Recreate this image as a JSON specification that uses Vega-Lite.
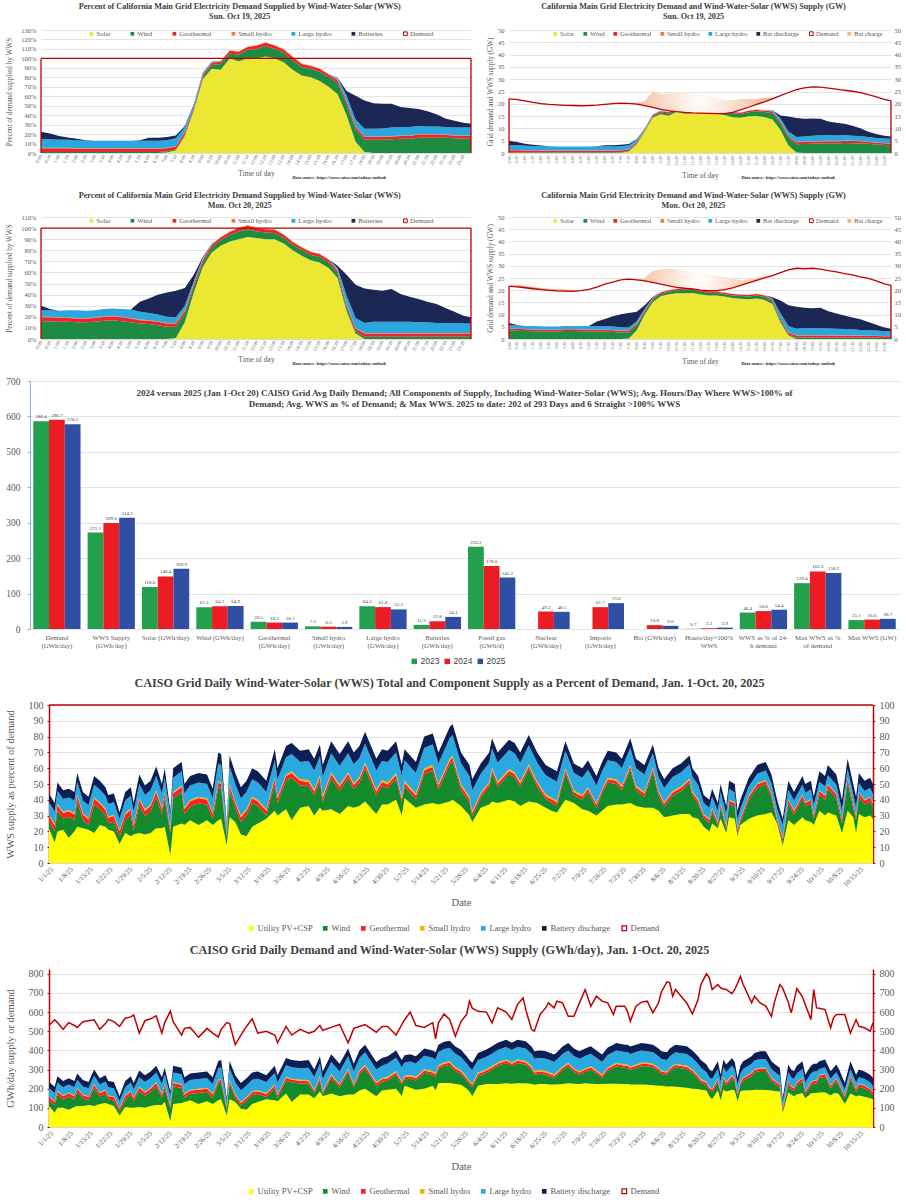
{
  "$schema": "https://vega.github.io/schema/vega-lite/v6.json",
  "background": "white",
  "padding": {"left": 4, "top": 1, "right": 0, "bottom": 0},
  "spacing": 10,
  "resolve": {"scale": {"color": "independent"}},
  "config": {
    "font": "Liberation Serif",
    "view": {"stroke": null},
    "axis": {"labelColor": "#595959", "titleColor": "#595959", "gridColor": "#d9d9d9", "gridWidth": 0.7, "domainColor": "#bfbfbf", "tickColor": "#bfbfbf", "titleFontWeight": "normal"},
    "legend": {"labelColor": "#595959"},
    "title": {"color": "#404040", "fontWeight": "bold", "anchor": "middle"}
  },
  "datasets": {
    "oct19pct": [
      {"hour":0,"solar":0,"wind":1,"geo":4,"smhydro":0.5,"lghydro":9,"batt":8,"demand":100},
      {"hour":0.5,"solar":0,"wind":1,"geo":4,"smhydro":0.5,"lghydro":9,"batt":6,"demand":100},
      {"hour":1,"solar":0,"wind":1,"geo":4,"smhydro":0.5,"lghydro":8.5,"batt":4,"demand":100},
      {"hour":1.5,"solar":0,"wind":1,"geo":4,"smhydro":0.5,"lghydro":8.5,"batt":2.5,"demand":100},
      {"hour":2,"solar":0,"wind":1,"geo":3.5,"smhydro":0.5,"lghydro":8.5,"batt":1.5,"demand":100},
      {"hour":2.5,"solar":0,"wind":1,"geo":3.5,"smhydro":0.5,"lghydro":8,"batt":0.5,"demand":100},
      {"hour":3,"solar":0,"wind":1,"geo":3.5,"smhydro":0.5,"lghydro":8,"batt":0,"demand":100},
      {"hour":3.5,"solar":0,"wind":1,"geo":3.5,"smhydro":0.5,"lghydro":8,"batt":0,"demand":100},
      {"hour":4,"solar":0,"wind":1,"geo":3.5,"smhydro":0.5,"lghydro":8,"batt":0,"demand":100},
      {"hour":4.5,"solar":0,"wind":1,"geo":3.5,"smhydro":0.5,"lghydro":8,"batt":0,"demand":100},
      {"hour":5,"solar":0,"wind":1,"geo":3.5,"smhydro":0.5,"lghydro":8,"batt":0,"demand":100},
      {"hour":5.5,"solar":0,"wind":1,"geo":3.5,"smhydro":0.5,"lghydro":8,"batt":0.5,"demand":100},
      {"hour":6,"solar":0,"wind":1,"geo":3.5,"smhydro":0.5,"lghydro":8,"batt":3,"demand":100},
      {"hour":6.5,"solar":0,"wind":1,"geo":3.5,"smhydro":0.5,"lghydro":8,"batt":3,"demand":100},
      {"hour":7,"solar":0.5,"wind":1,"geo":3.5,"smhydro":0.5,"lghydro":8,"batt":3.5,"demand":100},
      {"hour":7.5,"solar":3,"wind":1,"geo":3,"smhydro":0.5,"lghydro":8,"batt":3,"demand":100},
      {"hour":8,"solar":18,"wind":1,"geo":3,"smhydro":0.5,"lghydro":5,"batt":1,"demand":100},
      {"hour":8.5,"solar":45,"wind":1,"geo":2.5,"smhydro":0.5,"lghydro":3,"batt":0,"demand":100},
      {"hour":9,"solar":78,"wind":2,"geo":2.5,"smhydro":0.5,"lghydro":2,"batt":0,"demand":100},
      {"hour":9.5,"solar":89,"wind":4,"geo":2.5,"smhydro":0.5,"lghydro":1,"batt":0,"demand":100},
      {"hour":10,"solar":88,"wind":6,"geo":2.5,"smhydro":0.5,"lghydro":0.5,"batt":0,"demand":100},
      {"hour":10.5,"solar":100,"wind":5,"geo":3,"smhydro":0.5,"lghydro":0,"batt":0,"demand":100},
      {"hour":11,"solar":97,"wind":7,"geo":3,"smhydro":0.5,"lghydro":0,"batt":0,"demand":100},
      {"hour":11.5,"solar":100,"wind":9,"geo":3,"smhydro":0.5,"lghydro":0,"batt":0,"demand":100},
      {"hour":12,"solar":100,"wind":10,"geo":3.5,"smhydro":0.5,"lghydro":0,"batt":0,"demand":100},
      {"hour":12.5,"solar":102,"wind":11,"geo":3.5,"smhydro":0.5,"lghydro":0,"batt":0,"demand":100},
      {"hour":13,"solar":100,"wind":10,"geo":3.5,"smhydro":0.5,"lghydro":0,"batt":0,"demand":100},
      {"hour":13.5,"solar":96,"wind":10,"geo":3.5,"smhydro":0.5,"lghydro":0,"batt":0,"demand":100},
      {"hour":14,"solar":88,"wind":10,"geo":3.5,"smhydro":0.5,"lghydro":0,"batt":0,"demand":100},
      {"hour":14.5,"solar":82,"wind":9,"geo":3,"smhydro":0.5,"lghydro":0,"batt":0,"demand":100},
      {"hour":15,"solar":80,"wind":9,"geo":3,"smhydro":0.5,"lghydro":0,"batt":0,"demand":100},
      {"hour":15.5,"solar":76,"wind":10,"geo":3,"smhydro":0.5,"lghydro":0,"batt":0,"demand":100},
      {"hour":16,"solar":70,"wind":10,"geo":3,"smhydro":0.5,"lghydro":0,"batt":0,"demand":100},
      {"hour":16.5,"solar":62,"wind":12,"geo":3,"smhydro":0.5,"lghydro":2,"batt":0,"demand":100},
      {"hour":17,"solar":40,"wind":12,"geo":3,"smhydro":0.5,"lghydro":5,"batt":5,"demand":100},
      {"hour":17.5,"solar":12,"wind":13,"geo":3,"smhydro":0.5,"lghydro":7,"batt":25,"demand":100},
      {"hour":18,"solar":1,"wind":13,"geo":3,"smhydro":0.5,"lghydro":8,"batt":30,"demand":100},
      {"hour":18.5,"solar":0,"wind":14,"geo":3,"smhydro":0.5,"lghydro":8,"batt":27,"demand":100},
      {"hour":19,"solar":0,"wind":14,"geo":3,"smhydro":0.5,"lghydro":8.5,"batt":26,"demand":100},
      {"hour":19.5,"solar":0,"wind":14.5,"geo":3,"smhydro":0.5,"lghydro":9,"batt":25,"demand":100},
      {"hour":20,"solar":0,"wind":15,"geo":3,"smhydro":0.5,"lghydro":9,"batt":21,"demand":100},
      {"hour":20.5,"solar":0,"wind":15,"geo":3,"smhydro":0.5,"lghydro":9,"batt":20,"demand":100},
      {"hour":21,"solar":0,"wind":16,"geo":3.5,"smhydro":0.5,"lghydro":8.5,"batt":18,"demand":100},
      {"hour":21.5,"solar":0,"wind":16,"geo":3.5,"smhydro":0.5,"lghydro":8,"batt":16,"demand":100},
      {"hour":22,"solar":0,"wind":16,"geo":3.5,"smhydro":0.5,"lghydro":8,"batt":13,"demand":100},
      {"hour":22.5,"solar":0,"wind":16,"geo":3,"smhydro":0.5,"lghydro":8,"batt":9,"demand":100},
      {"hour":23,"solar":0,"wind":15.5,"geo":3,"smhydro":0.5,"lghydro":8,"batt":7,"demand":100},
      {"hour":23.5,"solar":0,"wind":15,"geo":3,"smhydro":0.5,"lghydro":8.5,"batt":5,"demand":100},
      {"hour":23.92,"solar":0,"wind":15,"geo":3,"smhydro":0.5,"lghydro":8.5,"batt":4,"demand":100}
    ],
    "oct19gw": [
      {"hour":0,"solar":0,"wind":0.2,"geo":0.9,"smhydro":0.1,"lghydro":2.0,"batt":1.8,"demand":22.0,"charge_top":22.0},
      {"hour":0.5,"solar":0,"wind":0.2,"geo":0.9,"smhydro":0.1,"lghydro":2.0,"batt":1.3,"demand":21.7,"charge_top":21.7},
      {"hour":1,"solar":0,"wind":0.2,"geo":0.85,"smhydro":0.1,"lghydro":1.8,"batt":0.85,"demand":21.2,"charge_top":21.2},
      {"hour":1.5,"solar":0,"wind":0.2,"geo":0.8,"smhydro":0.1,"lghydro":1.75,"batt":0.5,"demand":20.6,"charge_top":20.6},
      {"hour":2,"solar":0,"wind":0.2,"geo":0.7,"smhydro":0.1,"lghydro":1.7,"batt":0.3,"demand":20.1,"charge_top":20.1},
      {"hour":2.5,"solar":0,"wind":0.2,"geo":0.7,"smhydro":0.1,"lghydro":1.6,"batt":0.1,"demand":19.8,"charge_top":19.8},
      {"hour":3,"solar":0,"wind":0.2,"geo":0.7,"smhydro":0.1,"lghydro":1.6,"batt":0,"demand":19.6,"charge_top":19.6},
      {"hour":3.5,"solar":0,"wind":0.2,"geo":0.7,"smhydro":0.1,"lghydro":1.6,"batt":0,"demand":19.4,"charge_top":19.4},
      {"hour":4,"solar":0,"wind":0.2,"geo":0.7,"smhydro":0.1,"lghydro":1.6,"batt":0,"demand":19.3,"charge_top":19.3},
      {"hour":4.5,"solar":0,"wind":0.2,"geo":0.7,"smhydro":0.1,"lghydro":1.6,"batt":0,"demand":19.2,"charge_top":19.2},
      {"hour":5,"solar":0,"wind":0.2,"geo":0.7,"smhydro":0.1,"lghydro":1.6,"batt":0,"demand":19.3,"charge_top":19.3},
      {"hour":5.5,"solar":0,"wind":0.2,"geo":0.7,"smhydro":0.1,"lghydro":1.6,"batt":0.1,"demand":19.5,"charge_top":19.5},
      {"hour":6,"solar":0,"wind":0.2,"geo":0.7,"smhydro":0.1,"lghydro":1.6,"batt":0.6,"demand":19.8,"charge_top":19.8},
      {"hour":6.5,"solar":0,"wind":0.2,"geo":0.7,"smhydro":0.1,"lghydro":1.6,"batt":0.6,"demand":20.1,"charge_top":20.1},
      {"hour":7,"solar":0.1,"wind":0.2,"geo":0.7,"smhydro":0.1,"lghydro":1.6,"batt":0.7,"demand":20.3,"charge_top":20.3},
      {"hour":7.5,"solar":0.6,"wind":0.2,"geo":0.6,"smhydro":0.1,"lghydro":1.6,"batt":0.6,"demand":20.2,"charge_top":20.2},
      {"hour":8,"solar":3.6,"wind":0.2,"geo":0.6,"smhydro":0.1,"lghydro":1.0,"batt":0.2,"demand":19.9,"charge_top":20.5},
      {"hour":8.5,"solar":8.7,"wind":0.2,"geo":0.5,"smhydro":0.1,"lghydro":0.6,"batt":0,"demand":19.3,"charge_top":21.0},
      {"hour":9,"solar":14.4,"wind":0.4,"geo":0.5,"smhydro":0.1,"lghydro":0.4,"batt":0,"demand":18.5,"charge_top":25.0},
      {"hour":9.5,"solar":15.8,"wind":0.7,"geo":0.45,"smhydro":0.1,"lghydro":0.2,"batt":0,"demand":17.7,"charge_top":24.0},
      {"hour":10,"solar":15.1,"wind":1.0,"geo":0.45,"smhydro":0.1,"lghydro":0.1,"batt":0,"demand":17.2,"charge_top":24.0},
      {"hour":10.5,"solar":16.8,"wind":0.85,"geo":0.5,"smhydro":0.1,"lghydro":0,"batt":0,"demand":16.8,"charge_top":24.5},
      {"hour":11,"solar":16.0,"wind":1.15,"geo":0.5,"smhydro":0.1,"lghydro":0,"batt":0,"demand":16.5,"charge_top":24.5},
      {"hour":11.5,"solar":16.3,"wind":1.5,"geo":0.5,"smhydro":0.1,"lghydro":0,"batt":0,"demand":16.3,"charge_top":24.5},
      {"hour":12,"solar":16.2,"wind":1.6,"geo":0.55,"smhydro":0.1,"lghydro":0,"batt":0,"demand":16.2,"charge_top":24.5},
      {"hour":12.5,"solar":16.4,"wind":1.8,"geo":0.55,"smhydro":0.1,"lghydro":0,"batt":0,"demand":16.1,"charge_top":23.5},
      {"hour":13,"solar":16.0,"wind":1.6,"geo":0.55,"smhydro":0.1,"lghydro":0,"batt":0,"demand":16.0,"charge_top":22.5},
      {"hour":13.5,"solar":15.4,"wind":1.6,"geo":0.55,"smhydro":0.1,"lghydro":0,"batt":0,"demand":16.0,"charge_top":21.5},
      {"hour":14,"solar":14.5,"wind":1.65,"geo":0.55,"smhydro":0.1,"lghydro":0,"batt":0,"demand":16.5,"charge_top":21.5},
      {"hour":14.5,"solar":14.3,"wind":1.6,"geo":0.5,"smhydro":0.1,"lghydro":0,"batt":0,"demand":17.5,"charge_top":22.0},
      {"hour":15,"solar":14.9,"wind":1.7,"geo":0.55,"smhydro":0.1,"lghydro":0,"batt":0,"demand":18.6,"charge_top":22.0},
      {"hour":15.5,"solar":15.0,"wind":2.0,"geo":0.6,"smhydro":0.1,"lghydro":0,"batt":0,"demand":19.8,"charge_top":22.0},
      {"hour":16,"solar":14.6,"wind":2.1,"geo":0.6,"smhydro":0.1,"lghydro":0,"batt":0,"demand":20.8,"charge_top":22.5},
      {"hour":16.5,"solar":13.6,"wind":2.6,"geo":0.65,"smhydro":0.1,"lghydro":0.45,"batt":0,"demand":22.0,"charge_top":22.5},
      {"hour":17,"solar":9.3,"wind":2.8,"geo":0.7,"smhydro":0.1,"lghydro":1.15,"batt":1.15,"demand":23.3,"charge_top":23.3},
      {"hour":17.5,"solar":3.0,"wind":3.2,"geo":0.75,"smhydro":0.1,"lghydro":1.7,"batt":6.1,"demand":24.6,"charge_top":24.6},
      {"hour":18,"solar":0.25,"wind":3.35,"geo":0.8,"smhydro":0.1,"lghydro":2.05,"batt":7.7,"demand":25.8,"charge_top":25.8},
      {"hour":18.5,"solar":0,"wind":3.7,"geo":0.8,"smhydro":0.13,"lghydro":2.1,"batt":7.2,"demand":26.5,"charge_top":26.5},
      {"hour":19,"solar":0,"wind":3.75,"geo":0.8,"smhydro":0.13,"lghydro":2.3,"batt":7.0,"demand":26.9,"charge_top":26.9},
      {"hour":19.5,"solar":0,"wind":3.9,"geo":0.8,"smhydro":0.13,"lghydro":2.4,"batt":6.7,"demand":26.8,"charge_top":26.8},
      {"hour":20,"solar":0,"wind":4.0,"geo":0.8,"smhydro":0.13,"lghydro":2.4,"batt":5.5,"demand":26.4,"charge_top":26.4},
      {"hour":20.5,"solar":0,"wind":3.9,"geo":0.8,"smhydro":0.13,"lghydro":2.3,"batt":5.2,"demand":26.0,"charge_top":26.0},
      {"hour":21,"solar":0,"wind":4.1,"geo":0.9,"smhydro":0.13,"lghydro":2.2,"batt":4.6,"demand":25.5,"charge_top":25.5},
      {"hour":21.5,"solar":0,"wind":4.0,"geo":0.9,"smhydro":0.13,"lghydro":2.0,"batt":4.0,"demand":25.1,"charge_top":25.1},
      {"hour":22,"solar":0,"wind":3.9,"geo":0.85,"smhydro":0.12,"lghydro":2.0,"batt":3.2,"demand":24.5,"charge_top":24.5},
      {"hour":22.5,"solar":0,"wind":3.8,"geo":0.7,"smhydro":0.12,"lghydro":1.9,"batt":2.1,"demand":23.7,"charge_top":23.7},
      {"hour":23,"solar":0,"wind":3.5,"geo":0.7,"smhydro":0.11,"lghydro":1.8,"batt":1.6,"demand":22.8,"charge_top":22.8},
      {"hour":23.5,"solar":0,"wind":3.3,"geo":0.65,"smhydro":0.11,"lghydro":1.85,"batt":1.1,"demand":21.8,"charge_top":21.8},
      {"hour":23.92,"solar":0,"wind":3.2,"geo":0.65,"smhydro":0.11,"lghydro":1.8,"batt":0.9,"demand":21.2,"charge_top":21.2}
    ],
    "oct20pct": [
      {"hour":0,"solar":0,"wind":16,"geo":3.5,"smhydro":0.5,"lghydro":6,"batt":4,"demand":100},
      {"hour":0.5,"solar":0,"wind":16,"geo":3.5,"smhydro":0.5,"lghydro":6,"batt":1,"demand":100},
      {"hour":1,"solar":0,"wind":15.5,"geo":3.5,"smhydro":0.5,"lghydro":6,"batt":0,"demand":100},
      {"hour":1.5,"solar":0,"wind":15.5,"geo":3.5,"smhydro":0.5,"lghydro":6.5,"batt":0,"demand":100},
      {"hour":2,"solar":0,"wind":15,"geo":3.5,"smhydro":0.5,"lghydro":7,"batt":0,"demand":100},
      {"hour":2.5,"solar":0,"wind":15,"geo":3.5,"smhydro":0.5,"lghydro":6.5,"batt":0,"demand":100},
      {"hour":3,"solar":0,"wind":15.5,"geo":3.5,"smhydro":0.5,"lghydro":6.5,"batt":0,"demand":100},
      {"hour":3.5,"solar":0,"wind":16.5,"geo":3.5,"smhydro":0.5,"lghydro":6.5,"batt":0,"demand":100},
      {"hour":4,"solar":0,"wind":17,"geo":3.5,"smhydro":0.5,"lghydro":6.5,"batt":0,"demand":100},
      {"hour":4.5,"solar":0,"wind":16,"geo":3.5,"smhydro":0.5,"lghydro":7,"batt":0,"demand":100},
      {"hour":5,"solar":0,"wind":15,"geo":3.5,"smhydro":0.5,"lghydro":7.5,"batt":0,"demand":100},
      {"hour":5.5,"solar":0,"wind":14,"geo":3,"smhydro":0.5,"lghydro":7,"batt":9,"demand":100},
      {"hour":6,"solar":0,"wind":13.5,"geo":3,"smhydro":0.5,"lghydro":6.5,"batt":13,"demand":100},
      {"hour":6.5,"solar":0,"wind":12.5,"geo":3,"smhydro":0.5,"lghydro":6,"batt":18,"demand":100},
      {"hour":7,"solar":0,"wind":11,"geo":3,"smhydro":0.5,"lghydro":5.5,"batt":22,"demand":100},
      {"hour":7.5,"solar":1,"wind":10,"geo":3,"smhydro":0.5,"lghydro":5,"batt":24,"demand":100},
      {"hour":8,"solar":15,"wind":8,"geo":2.5,"smhydro":0.5,"lghydro":4,"batt":16,"demand":100},
      {"hour":8.5,"solar":42,"wind":5,"geo":2.5,"smhydro":0.5,"lghydro":2,"batt":6,"demand":100},
      {"hour":9,"solar":65,"wind":4,"geo":2.5,"smhydro":0.5,"lghydro":1,"batt":1,"demand":100},
      {"hour":9.5,"solar":78,"wind":4.5,"geo":2.5,"smhydro":0.5,"lghydro":0.5,"batt":0,"demand":100},
      {"hour":10,"solar":84,"wind":5,"geo":2.5,"smhydro":0.5,"lghydro":0,"batt":0,"demand":100},
      {"hour":10.5,"solar":88,"wind":6,"geo":2.5,"smhydro":0.5,"lghydro":0,"batt":0,"demand":100},
      {"hour":11,"solar":90,"wind":7,"geo":3,"smhydro":0.5,"lghydro":0,"batt":0,"demand":100},
      {"hour":11.5,"solar":92,"wind":7,"geo":3,"smhydro":0.5,"lghydro":0,"batt":0,"demand":100},
      {"hour":12,"solar":91,"wind":6,"geo":3,"smhydro":0.5,"lghydro":0,"batt":0,"demand":100},
      {"hour":12.5,"solar":90,"wind":6,"geo":3,"smhydro":0.5,"lghydro":0,"batt":0,"demand":100},
      {"hour":13,"solar":90,"wind":5.5,"geo":3,"smhydro":0.5,"lghydro":0,"batt":0,"demand":100},
      {"hour":13.5,"solar":86,"wind":5,"geo":3,"smhydro":0.5,"lghydro":0,"batt":0,"demand":100},
      {"hour":14,"solar":80,"wind":5,"geo":2.5,"smhydro":0.5,"lghydro":0,"batt":0,"demand":100},
      {"hour":14.5,"solar":75,"wind":5,"geo":2.5,"smhydro":0.5,"lghydro":0,"batt":0,"demand":100},
      {"hour":15,"solar":71,"wind":5,"geo":2.5,"smhydro":0.5,"lghydro":0,"batt":0,"demand":100},
      {"hour":15.5,"solar":69,"wind":5,"geo":2.5,"smhydro":0.5,"lghydro":0,"batt":0,"demand":100},
      {"hour":16,"solar":64,"wind":5,"geo":2.5,"smhydro":0.5,"lghydro":0,"batt":0,"demand":100},
      {"hour":16.5,"solar":55,"wind":4,"geo":2.5,"smhydro":0.5,"lghydro":2,"batt":2,"demand":100},
      {"hour":17,"solar":25,"wind":3,"geo":2.5,"smhydro":0.5,"lghydro":8,"batt":19,"demand":100},
      {"hour":17.5,"solar":5,"wind":2,"geo":2.5,"smhydro":0.5,"lghydro":9,"batt":30,"demand":100},
      {"hour":18,"solar":0,"wind":2,"geo":3,"smhydro":0.5,"lghydro":9,"batt":31,"demand":100},
      {"hour":18.5,"solar":0,"wind":2,"geo":3,"smhydro":0.5,"lghydro":10,"batt":29,"demand":100},
      {"hour":19,"solar":0,"wind":2,"geo":3,"smhydro":0.5,"lghydro":10,"batt":28,"demand":100},
      {"hour":19.5,"solar":0,"wind":2,"geo":3,"smhydro":0.5,"lghydro":10,"batt":29.5,"demand":100},
      {"hour":20,"solar":0,"wind":2,"geo":3,"smhydro":0.5,"lghydro":10,"batt":25,"demand":100},
      {"hour":20.5,"solar":0,"wind":2,"geo":3,"smhydro":0.5,"lghydro":10,"batt":22.5,"demand":100},
      {"hour":21,"solar":0,"wind":2,"geo":3,"smhydro":0.5,"lghydro":9.5,"batt":21,"demand":100},
      {"hour":21.5,"solar":0,"wind":2,"geo":3,"smhydro":0.5,"lghydro":9.5,"batt":18.5,"demand":100},
      {"hour":22,"solar":0,"wind":2,"geo":3,"smhydro":0.5,"lghydro":9,"batt":17,"demand":100},
      {"hour":22.5,"solar":0,"wind":2,"geo":3,"smhydro":0.5,"lghydro":9,"batt":13.5,"demand":100},
      {"hour":23,"solar":0,"wind":2,"geo":3,"smhydro":0.5,"lghydro":9,"batt":10,"demand":100},
      {"hour":23.5,"solar":0,"wind":2,"geo":3,"smhydro":0.5,"lghydro":8.5,"batt":7,"demand":100},
      {"hour":23.92,"solar":0,"wind":2,"geo":3,"smhydro":0.5,"lghydro":8.5,"batt":5.5,"demand":100}
    ],
    "oct20gw": [
      {"hour":0,"solar":0,"wind":3.5,"geo":0.75,"smhydro":0.1,"lghydro":1.3,"batt":0.9,"demand":21.7,"charge_top":21.7},
      {"hour":0.5,"solar":0,"wind":3.4,"geo":0.75,"smhydro":0.1,"lghydro":1.3,"batt":0.2,"demand":21.4,"charge_top":22.1},
      {"hour":1,"solar":0,"wind":3.25,"geo":0.75,"smhydro":0.1,"lghydro":1.25,"batt":0,"demand":21.0,"charge_top":21.7},
      {"hour":1.5,"solar":0,"wind":3.2,"geo":0.7,"smhydro":0.1,"lghydro":1.35,"batt":0,"demand":20.6,"charge_top":21.3},
      {"hour":2,"solar":0,"wind":3.05,"geo":0.7,"smhydro":0.1,"lghydro":1.4,"batt":0,"demand":20.2,"charge_top":20.9},
      {"hour":2.5,"solar":0,"wind":3.0,"geo":0.7,"smhydro":0.1,"lghydro":1.3,"batt":0,"demand":19.9,"charge_top":20.6},
      {"hour":3,"solar":0,"wind":3.05,"geo":0.7,"smhydro":0.1,"lghydro":1.3,"batt":0,"demand":19.7,"charge_top":20.4},
      {"hour":3.5,"solar":0,"wind":3.25,"geo":0.7,"smhydro":0.1,"lghydro":1.25,"batt":0,"demand":19.6,"charge_top":20.3},
      {"hour":4,"solar":0,"wind":3.3,"geo":0.7,"smhydro":0.1,"lghydro":1.25,"batt":0,"demand":19.5,"charge_top":20.1},
      {"hour":4.5,"solar":0,"wind":3.15,"geo":0.7,"smhydro":0.1,"lghydro":1.4,"batt":0,"demand":19.8,"charge_top":19.8},
      {"hour":5,"solar":0,"wind":3.05,"geo":0.7,"smhydro":0.1,"lghydro":1.5,"batt":0,"demand":20.3,"charge_top":20.3},
      {"hour":5.5,"solar":0,"wind":3.0,"geo":0.65,"smhydro":0.1,"lghydro":1.5,"batt":1.9,"demand":21.3,"charge_top":21.3},
      {"hour":6,"solar":0,"wind":3.05,"geo":0.7,"smhydro":0.1,"lghydro":1.45,"batt":2.9,"demand":22.5,"charge_top":22.5},
      {"hour":6.5,"solar":0,"wind":2.9,"geo":0.7,"smhydro":0.1,"lghydro":1.4,"batt":4.2,"demand":23.3,"charge_top":23.3},
      {"hour":7,"solar":0,"wind":2.65,"geo":0.7,"smhydro":0.1,"lghydro":1.35,"batt":5.3,"demand":24.2,"charge_top":24.2},
      {"hour":7.5,"solar":0.25,"wind":2.45,"geo":0.75,"smhydro":0.1,"lghydro":1.2,"batt":5.9,"demand":24.5,"charge_top":24.5},
      {"hour":8,"solar":3.6,"wind":1.95,"geo":0.6,"smhydro":0.1,"lghydro":1.0,"batt":3.9,"demand":24.2,"charge_top":24.2},
      {"hour":8.5,"solar":10.0,"wind":1.2,"geo":0.6,"smhydro":0.1,"lghydro":0.5,"batt":1.4,"demand":23.8,"charge_top":25.0},
      {"hour":9,"solar":15.1,"wind":0.9,"geo":0.6,"smhydro":0.1,"lghydro":0.25,"batt":0.25,"demand":23.2,"charge_top":28.0},
      {"hour":9.5,"solar":17.5,"wind":1.0,"geo":0.55,"smhydro":0.1,"lghydro":0.1,"batt":0,"demand":22.5,"charge_top":28.5},
      {"hour":10,"solar":18.3,"wind":1.1,"geo":0.55,"smhydro":0.1,"lghydro":0,"batt":0,"demand":21.8,"charge_top":29.0},
      {"hour":10.5,"solar":18.7,"wind":1.25,"geo":0.55,"smhydro":0.1,"lghydro":0,"batt":0,"demand":21.2,"charge_top":28.5},
      {"hour":11,"solar":18.7,"wind":1.45,"geo":0.6,"smhydro":0.1,"lghydro":0,"batt":0,"demand":20.8,"charge_top":28.0},
      {"hour":11.5,"solar":18.9,"wind":1.45,"geo":0.6,"smhydro":0.1,"lghydro":0,"batt":0,"demand":20.5,"charge_top":27.5},
      {"hour":12,"solar":18.2,"wind":1.2,"geo":0.6,"smhydro":0.1,"lghydro":0,"batt":0,"demand":20.0,"charge_top":27.0},
      {"hour":12.5,"solar":17.8,"wind":1.2,"geo":0.6,"smhydro":0.1,"lghydro":0,"batt":0,"demand":19.8,"charge_top":26.5},
      {"hour":13,"solar":17.8,"wind":1.1,"geo":0.6,"smhydro":0.1,"lghydro":0,"batt":0,"demand":19.8,"charge_top":26.0},
      {"hour":13.5,"solar":17.4,"wind":1.0,"geo":0.6,"smhydro":0.1,"lghydro":0,"batt":0,"demand":20.2,"charge_top":25.5},
      {"hour":14,"solar":16.8,"wind":1.05,"geo":0.55,"smhydro":0.1,"lghydro":0,"batt":0,"demand":21.0,"charge_top":25.0},
      {"hour":14.5,"solar":16.5,"wind":1.1,"geo":0.55,"smhydro":0.1,"lghydro":0,"batt":0,"demand":22.0,"charge_top":24.0},
      {"hour":15,"solar":16.3,"wind":1.15,"geo":0.55,"smhydro":0.1,"lghydro":0,"batt":0,"demand":23.0,"charge_top":24.5},
      {"hour":15.5,"solar":16.6,"wind":1.2,"geo":0.6,"smhydro":0.1,"lghydro":0,"batt":0,"demand":24.0,"charge_top":25.0},
      {"hour":16,"solar":16.0,"wind":1.25,"geo":0.6,"smhydro":0.1,"lghydro":0,"batt":0,"demand":25.0,"charge_top":25.8},
      {"hour":16.5,"solar":14.3,"wind":1.05,"geo":0.65,"smhydro":0.1,"lghydro":0.5,"batt":0.5,"demand":26.0,"charge_top":26.3},
      {"hour":17,"solar":6.8,"wind":0.8,"geo":0.7,"smhydro":0.1,"lghydro":2.2,"batt":5.2,"demand":27.2,"charge_top":27.2},
      {"hour":17.5,"solar":1.4,"wind":0.55,"geo":0.7,"smhydro":0.15,"lghydro":2.55,"batt":8.5,"demand":28.3,"charge_top":28.3},
      {"hour":18,"solar":0,"wind":0.6,"geo":0.85,"smhydro":0.15,"lghydro":2.6,"batt":9.0,"demand":29.0,"charge_top":29.0},
      {"hour":18.5,"solar":0,"wind":0.6,"geo":0.85,"smhydro":0.15,"lghydro":2.9,"batt":8.35,"demand":28.8,"charge_top":28.8},
      {"hour":19,"solar":0,"wind":0.6,"geo":0.85,"smhydro":0.15,"lghydro":2.9,"batt":8.1,"demand":29.0,"charge_top":29.0},
      {"hour":19.5,"solar":0,"wind":0.55,"geo":0.85,"smhydro":0.15,"lghydro":2.85,"batt":8.45,"demand":28.6,"charge_top":28.6},
      {"hour":20,"solar":0,"wind":0.55,"geo":0.85,"smhydro":0.15,"lghydro":2.8,"batt":7.0,"demand":28.0,"charge_top":28.0},
      {"hour":20.5,"solar":0,"wind":0.55,"geo":0.8,"smhydro":0.15,"lghydro":2.75,"batt":6.2,"demand":27.5,"charge_top":27.5},
      {"hour":21,"solar":0,"wind":0.55,"geo":0.8,"smhydro":0.15,"lghydro":2.55,"batt":5.6,"demand":26.8,"charge_top":26.8},
      {"hour":21.5,"solar":0,"wind":0.55,"geo":0.8,"smhydro":0.15,"lghydro":2.5,"batt":4.85,"demand":26.3,"charge_top":26.3},
      {"hour":22,"solar":0,"wind":0.5,"geo":0.75,"smhydro":0.15,"lghydro":2.3,"batt":4.35,"demand":25.5,"charge_top":25.5},
      {"hour":22.5,"solar":0,"wind":0.5,"geo":0.75,"smhydro":0.1,"lghydro":2.25,"batt":3.35,"demand":24.8,"charge_top":24.8},
      {"hour":23,"solar":0,"wind":0.5,"geo":0.7,"smhydro":0.1,"lghydro":2.15,"batt":2.4,"demand":23.8,"charge_top":23.8},
      {"hour":23.5,"solar":0,"wind":0.45,"geo":0.7,"smhydro":0.1,"lghydro":1.9,"batt":1.6,"demand":22.6,"charge_top":22.6},
      {"hour":23.92,"solar":0,"wind":0.45,"geo":0.7,"smhydro":0.1,"lghydro":1.8,"batt":1.1,"demand":22.0,"charge_top":22.0}
    ],
    "bars": [
      {"cat":"Demand|(GWh/day)","year":"2023","value":586.4},{"cat":"Demand|(GWh/day)","year":"2024","value":590.7},{"cat":"Demand|(GWh/day)","year":"2025","value":578.1},
      {"cat":"WWS Supply|(GWh/day)","year":"2023","value":272.1},{"cat":"WWS Supply|(GWh/day)","year":"2024","value":299.0},{"cat":"WWS Supply|(GWh/day)","year":"2025","value":314.3},
      {"cat":"Solar (GWh/day)","year":"2023","value":118.6},{"cat":"Solar (GWh/day)","year":"2024","value":148.4},{"cat":"Solar (GWh/day)","year":"2025","value":169.9},
      {"cat":"Wind (GWh/day)","year":"2023","value":61.2},{"cat":"Wind (GWh/day)","year":"2024","value":64.2},{"cat":"Wind (GWh/day)","year":"2025","value":64.9},
      {"cat":"Geothermal|(GWh/day)","year":"2023","value":20.5},{"cat":"Geothermal|(GWh/day)","year":"2024","value":18.2},{"cat":"Geothermal|(GWh/day)","year":"2025","value":18.1},
      {"cat":"Small hydro|(GWh/day)","year":"2023","value":7.5},{"cat":"Small hydro|(GWh/day)","year":"2024","value":6.5},{"cat":"Small hydro|(GWh/day)","year":"2025","value":5.9},
      {"cat":"Large hydro|(GWh/day)","year":"2023","value":64.3},{"cat":"Large hydro|(GWh/day)","year":"2024","value":61.8},{"cat":"Large hydro|(GWh/day)","year":"2025","value":55.3},
      {"cat":"Batteries|(GWh/day)","year":"2023","value":11.3},{"cat":"Batteries|(GWh/day)","year":"2024","value":21.8},{"cat":"Batteries|(GWh/day)","year":"2025","value":34.1},
      {"cat":"Fossil gas|(GWh/d)","year":"2023","value":232.2},{"cat":"Fossil gas|(GWh/d)","year":"2024","value":178.0},{"cat":"Fossil gas|(GWh/d)","year":"2025","value":145.3},
      {"cat":"Nuclear|(GWh/day)","year":"2024","value":49.2},{"cat":"Nuclear|(GWh/day)","year":"2025","value":48.5},
      {"cat":"Imports|(GWh/day)","year":"2024","value":61.7},{"cat":"Imports|(GWh/day)","year":"2025","value":73.0},
      {"cat":"Bio (GWh/day)","year":"2024","value":10.8},{"cat":"Bio (GWh/day)","year":"2025","value":9.0},
      {"cat":"Hours/day>100%|WWS","year":"2023","value":0.7},{"cat":"Hours/day>100%|WWS","year":"2024","value":2.2},{"cat":"Hours/day>100%|WWS","year":"2025","value":3.9},
      {"cat":"WWS as % of 24-|h demand","year":"2023","value":46.4},{"cat":"WWS as % of 24-|h demand","year":"2024","value":50.6},{"cat":"WWS as % of 24-|h demand","year":"2025","value":54.4},
      {"cat":"Max WWS as %|of demand","year":"2023","value":129.4},{"cat":"Max WWS as %|of demand","year":"2024","value":162.3},{"cat":"Max WWS as %|of demand","year":"2025","value":158.2},
      {"cat":"Max WWS (GW)","year":"2023","value":25.1},{"cat":"Max WWS (GW)","year":"2024","value":26.6},{"cat":"Max WWS (GW)","year":"2025","value":28.7}
    ],
    "dailyPct": [
      {"date":"2025-01-01","solar":22,"wind":4.2,"geo":3.5,"smhydro":0.8,"lghydro":8,"batt":5.5,"demand":100},
      {"date":"2025-01-03","solar":13,"wind":7.2,"geo":3.5,"smhydro":0.8,"lghydro":8,"batt":5.5,"demand":100},
      {"date":"2025-01-04","solar":20,"wind":13.2,"geo":3.5,"smhydro":0.8,"lghydro":8,"batt":5.5,"demand":100},
      {"date":"2025-01-06","solar":21,"wind":7.2,"geo":3.5,"smhydro":0.8,"lghydro":8,"batt":5.5,"demand":100},
      {"date":"2025-01-08","solar":16,"wind":13.2,"geo":3.5,"smhydro":0.8,"lghydro":8,"batt":5.5,"demand":100},
      {"date":"2025-01-10","solar":20,"wind":7.2,"geo":3.5,"smhydro":0.8,"lghydro":8,"batt":5.5,"demand":100},
      {"date":"2025-01-11","solar":23,"wind":16.2,"geo":3.5,"smhydro":0.8,"lghydro":8,"batt":5.5,"demand":100},
      {"date":"2025-01-13","solar":22,"wind":5.2,"geo":3.5,"smhydro":0.8,"lghydro":8,"batt":5.5,"demand":100},
      {"date":"2025-01-15","solar":21,"wind":3.2,"geo":3.5,"smhydro":0.8,"lghydro":8,"batt":5.5,"demand":100},
      {"date":"2025-01-17","solar":19,"wind":18.2,"geo":3.5,"smhydro":0.8,"lghydro":8,"batt":5.5,"demand":100},
      {"date":"2025-01-19","solar":24,"wind":10.2,"geo":3.5,"smhydro":0.8,"lghydro":8,"batt":5.5,"demand":100},
      {"date":"2025-01-21","solar":23,"wind":7.2,"geo":3.5,"smhydro":0.8,"lghydro":8,"batt":5.5,"demand":100},
      {"date":"2025-01-22","solar":21,"wind":4.2,"geo":3.5,"smhydro":0.8,"lghydro":8,"batt":5.5,"demand":100},
      {"date":"2025-01-24","solar":20,"wind":6.2,"geo":3.5,"smhydro":0.8,"lghydro":8,"batt":5.5,"demand":100},
      {"date":"2025-01-26","solar":12,"wind":4.7,"geo":3.5,"smhydro":0.8,"lghydro":7,"batt":4,"demand":100},
      {"date":"2025-01-28","solar":19,"wind":8.2,"geo":3.5,"smhydro":0.8,"lghydro":8,"batt":5.5,"demand":100},
      {"date":"2025-01-30","solar":17,"wind":13.2,"geo":3.5,"smhydro":0.8,"lghydro":8,"batt":5.5,"demand":100},
      {"date":"2025-01-31","solar":18,"wind":2.2,"geo":3.5,"smhydro":0.8,"lghydro":8,"batt":5.5,"demand":100},
      {"date":"2025-02-02","solar":19,"wind":17.8,"geo":3.3,"smhydro":0.9,"lghydro":9,"batt":6,"demand":100},
      {"date":"2025-02-04","solar":18,"wind":11.8,"geo":3.3,"smhydro":0.9,"lghydro":9,"batt":6,"demand":100},
      {"date":"2025-02-06","solar":19,"wind":13.8,"geo":3.3,"smhydro":0.9,"lghydro":9,"batt":6,"demand":100},
      {"date":"2025-02-08","solar":22,"wind":19.8,"geo":3.3,"smhydro":0.9,"lghydro":9,"batt":6,"demand":100},
      {"date":"2025-02-10","solar":22,"wind":8.8,"geo":3.3,"smhydro":0.9,"lghydro":9,"batt":6,"demand":100},
      {"date":"2025-02-11","solar":23,"wind":17.8,"geo":3.3,"smhydro":0.9,"lghydro":9,"batt":6,"demand":100},
      {"date":"2025-02-13","solar":5,"wind":13.8,"geo":2.5,"smhydro":0.7,"lghydro":8,"batt":3,"demand":100},
      {"date":"2025-02-14","solar":23,"wind":17.8,"geo":3.3,"smhydro":0.9,"lghydro":9,"batt":6,"demand":100},
      {"date":"2025-02-17","solar":25,"wind":19.8,"geo":3.3,"smhydro":0.9,"lghydro":9,"batt":6,"demand":100},
      {"date":"2025-02-18","solar":24,"wind":6.8,"geo":3.3,"smhydro":0.9,"lghydro":9,"batt":6,"demand":100},
      {"date":"2025-02-20","solar":27,"wind":8.8,"geo":3.3,"smhydro":0.9,"lghydro":9,"batt":6,"demand":100},
      {"date":"2025-02-23","solar":24,"wind":13.8,"geo":3.3,"smhydro":0.9,"lghydro":9,"batt":6,"demand":100},
      {"date":"2025-02-26","solar":27,"wind":9.8,"geo":3.3,"smhydro":0.9,"lghydro":9,"batt":6,"demand":100},
      {"date":"2025-02-28","solar":24,"wind":3.8,"geo":3.3,"smhydro":0.9,"lghydro":9,"batt":6,"demand":100},
      {"date":"2025-03-02","solar":27,"wind":21,"geo":3,"smhydro":1,"lghydro":11,"batt":7,"demand":100},
      {"date":"2025-03-03","solar":28,"wind":19,"geo":3,"smhydro":1,"lghydro":11,"batt":7,"demand":100},
      {"date":"2025-03-05","solar":11,"wind":4.9,"geo":2,"smhydro":0.6,"lghydro":5,"batt":1.5,"demand":100},
      {"date":"2025-03-06","solar":29,"wind":17,"geo":3,"smhydro":1,"lghydro":11,"batt":7,"demand":100},
      {"date":"2025-03-08","solar":26,"wind":9,"geo":3,"smhydro":1,"lghydro":11,"batt":7,"demand":100},
      {"date":"2025-03-10","solar":18,"wind":8,"geo":3,"smhydro":1,"lghydro":11,"batt":7,"demand":100},
      {"date":"2025-03-12","solar":17,"wind":13,"geo":3,"smhydro":1,"lghydro":11,"batt":7,"demand":100},
      {"date":"2025-03-14","solar":23,"wind":15,"geo":3,"smhydro":1,"lghydro":11,"batt":7,"demand":100},
      {"date":"2025-03-16","solar":25,"wind":11,"geo":3,"smhydro":1,"lghydro":11,"batt":7,"demand":100},
      {"date":"2025-03-19","solar":28,"wind":2,"geo":3,"smhydro":1,"lghydro":11,"batt":7,"demand":100},
      {"date":"2025-03-22","solar":33,"wind":17,"geo":3,"smhydro":1,"lghydro":11,"batt":7,"demand":100},
      {"date":"2025-03-23","solar":30,"wind":8,"geo":3,"smhydro":1,"lghydro":11,"batt":7,"demand":100},
      {"date":"2025-03-26","solar":34,"wind":18,"geo":3,"smhydro":1,"lghydro":11,"batt":7,"demand":100},
      {"date":"2025-03-28","solar":27,"wind":27,"geo":3,"smhydro":1,"lghydro":11,"batt":7,"demand":100},
      {"date":"2025-03-31","solar":35,"wind":14,"geo":3,"smhydro":1,"lghydro":11,"batt":7,"demand":100},
      {"date":"2025-04-03","solar":36,"wind":12.8,"geo":2.5,"smhydro":1.2,"lghydro":12,"batt":7.5,"demand":100},
      {"date":"2025-04-05","solar":30,"wind":12.8,"geo":2.5,"smhydro":1.2,"lghydro":12,"batt":7.5,"demand":100},
      {"date":"2025-04-07","solar":35,"wind":16.8,"geo":2.5,"smhydro":1.2,"lghydro":12,"batt":7.5,"demand":100},
      {"date":"2025-04-08","solar":33,"wind":5.8,"geo":2.5,"smhydro":1.2,"lghydro":12,"batt":7.5,"demand":100},
      {"date":"2025-04-11","solar":34,"wind":19.8,"geo":2.5,"smhydro":1.2,"lghydro":12,"batt":7.5,"demand":100},
      {"date":"2025-04-14","solar":31,"wind":14.8,"geo":2.5,"smhydro":1.2,"lghydro":12,"batt":7.5,"demand":100},
      {"date":"2025-04-17","solar":36,"wind":17.8,"geo":2.5,"smhydro":1.2,"lghydro":12,"batt":7.5,"demand":100},
      {"date":"2025-04-19","solar":35,"wind":11.8,"geo":2.5,"smhydro":1.2,"lghydro":12,"batt":7.5,"demand":100},
      {"date":"2025-04-21","solar":36,"wind":14.8,"geo":2.5,"smhydro":1.2,"lghydro":12,"batt":7.5,"demand":100},
      {"date":"2025-04-23","solar":39,"wind":20.8,"geo":2.5,"smhydro":1.2,"lghydro":12,"batt":7.5,"demand":100},
      {"date":"2025-04-27","solar":31,"wind":11.8,"geo":2.5,"smhydro":1.2,"lghydro":12,"batt":7.5,"demand":100},
      {"date":"2025-04-29","solar":37,"wind":11.8,"geo":2.5,"smhydro":1.2,"lghydro":12,"batt":7.5,"demand":100},
      {"date":"2025-05-01","solar":37,"wind":10.4,"geo":2.3,"smhydro":1.3,"lghydro":13,"batt":7,"demand":100},
      {"date":"2025-05-04","solar":40,"wind":13.4,"geo":2.3,"smhydro":1.3,"lghydro":13,"batt":7,"demand":100},
      {"date":"2025-05-06","solar":30,"wind":8.4,"geo":2.3,"smhydro":1.3,"lghydro":13,"batt":7,"demand":100},
      {"date":"2025-05-07","solar":41,"wind":7.4,"geo":2.3,"smhydro":1.3,"lghydro":13,"batt":7,"demand":100},
      {"date":"2025-05-11","solar":35,"wind":5.4,"geo":2.3,"smhydro":1.3,"lghydro":13,"batt":7,"demand":100},
      {"date":"2025-05-14","solar":37,"wind":19.4,"geo":2.3,"smhydro":1.3,"lghydro":13,"batt":7,"demand":100},
      {"date":"2025-05-17","solar":38,"wind":20.4,"geo":2.3,"smhydro":1.3,"lghydro":13,"batt":7,"demand":100},
      {"date":"2025-05-19","solar":37,"wind":9.4,"geo":2.3,"smhydro":1.3,"lghydro":13,"batt":7,"demand":100},
      {"date":"2025-05-23","solar":39,"wind":23.4,"geo":2.3,"smhydro":1.3,"lghydro":13,"batt":7,"demand":100},
      {"date":"2025-05-24","solar":40,"wind":24.4,"geo":2.3,"smhydro":1.3,"lghydro":13,"batt":7,"demand":100},
      {"date":"2025-05-27","solar":36,"wind":10.4,"geo":2.3,"smhydro":1.3,"lghydro":13,"batt":7,"demand":100},
      {"date":"2025-05-30","solar":30,"wind":8.4,"geo":2.3,"smhydro":1.3,"lghydro":13,"batt":7,"demand":100},
      {"date":"2025-05-31","solar":26,"wind":3.4,"geo":2.3,"smhydro":1.3,"lghydro":13,"batt":7,"demand":100},
      {"date":"2025-06-03","solar":35,"wind":6.3,"geo":2,"smhydro":1.2,"lghydro":12,"batt":6.5,"demand":100},
      {"date":"2025-06-06","solar":37,"wind":11.3,"geo":2,"smhydro":1.2,"lghydro":12,"batt":6.5,"demand":100},
      {"date":"2025-06-07","solar":39,"wind":18.3,"geo":2,"smhydro":1.2,"lghydro":12,"batt":6.5,"demand":100},
      {"date":"2025-06-09","solar":38,"wind":10.3,"geo":2,"smhydro":1.2,"lghydro":12,"batt":6.5,"demand":100},
      {"date":"2025-06-13","solar":40,"wind":16.3,"geo":2,"smhydro":1.2,"lghydro":12,"batt":6.5,"demand":100},
      {"date":"2025-06-15","solar":39,"wind":15.3,"geo":2,"smhydro":1.2,"lghydro":12,"batt":6.5,"demand":100},
      {"date":"2025-06-17","solar":36,"wind":12.3,"geo":2,"smhydro":1.2,"lghydro":12,"batt":6.5,"demand":100},
      {"date":"2025-06-20","solar":39,"wind":20.3,"geo":2,"smhydro":1.2,"lghydro":12,"batt":6.5,"demand":100},
      {"date":"2025-06-23","solar":38,"wind":10.3,"geo":2,"smhydro":1.2,"lghydro":12,"batt":6.5,"demand":100},
      {"date":"2025-06-26","solar":35,"wind":5.3,"geo":2,"smhydro":1.2,"lghydro":12,"batt":6.5,"demand":100},
      {"date":"2025-06-28","solar":33,"wind":5.3,"geo":2,"smhydro":1.2,"lghydro":12,"batt":6.5,"demand":100},
      {"date":"2025-06-30","solar":32,"wind":4.3,"geo":2,"smhydro":1.2,"lghydro":12,"batt":6.5,"demand":100},
      {"date":"2025-07-03","solar":40,"wind":17,"geo":2,"smhydro":1,"lghydro":11,"batt":6,"demand":100},
      {"date":"2025-07-06","solar":38,"wind":5,"geo":2,"smhydro":1,"lghydro":11,"batt":6,"demand":100},
      {"date":"2025-07-09","solar":34,"wind":6,"geo":2,"smhydro":1,"lghydro":11,"batt":6,"demand":100},
      {"date":"2025-07-11","solar":33,"wind":12,"geo":2,"smhydro":1,"lghydro":11,"batt":6,"demand":100},
      {"date":"2025-07-14","solar":30,"wind":5,"geo":2,"smhydro":1,"lghydro":11,"batt":6,"demand":100},
      {"date":"2025-07-16","solar":33,"wind":11,"geo":2,"smhydro":1,"lghydro":11,"batt":6,"demand":100},
      {"date":"2025-07-18","solar":36,"wind":15,"geo":2,"smhydro":1,"lghydro":11,"batt":6,"demand":100},
      {"date":"2025-07-21","solar":37,"wind":13,"geo":2,"smhydro":1,"lghydro":11,"batt":6,"demand":100},
      {"date":"2025-07-23","solar":37,"wind":9,"geo":2,"smhydro":1,"lghydro":11,"batt":6,"demand":100},
      {"date":"2025-07-26","solar":38,"wind":21,"geo":2,"smhydro":1,"lghydro":11,"batt":6,"demand":100},
      {"date":"2025-07-28","solar":36,"wind":10,"geo":2,"smhydro":1,"lghydro":11,"batt":6,"demand":100},
      {"date":"2025-07-31","solar":35,"wind":7,"geo":2,"smhydro":1,"lghydro":11,"batt":6,"demand":100},
      {"date":"2025-08-03","solar":35,"wind":22.6,"geo":2,"smhydro":0.9,"lghydro":9,"batt":5.5,"demand":100},
      {"date":"2025-08-05","solar":33,"wind":9.6,"geo":2,"smhydro":0.9,"lghydro":9,"batt":5.5,"demand":100},
      {"date":"2025-08-07","solar":29,"wind":6.6,"geo":2,"smhydro":0.9,"lghydro":9,"batt":5.5,"demand":100},
      {"date":"2025-08-10","solar":30,"wind":12.6,"geo":2,"smhydro":0.9,"lghydro":9,"batt":5.5,"demand":100},
      {"date":"2025-08-13","solar":31,"wind":14.6,"geo":2,"smhydro":0.9,"lghydro":9,"batt":5.5,"demand":100},
      {"date":"2025-08-16","solar":31,"wind":19.6,"geo":2,"smhydro":0.9,"lghydro":9,"batt":5.5,"demand":100},
      {"date":"2025-08-17","solar":29,"wind":13.6,"geo":2,"smhydro":0.9,"lghydro":9,"batt":5.5,"demand":100},
      {"date":"2025-08-19","solar":28,"wind":9.6,"geo":2,"smhydro":0.9,"lghydro":9,"batt":5.5,"demand":100},
      {"date":"2025-08-21","solar":23,"wind":5.3,"geo":2,"smhydro":0.7,"lghydro":7,"batt":5,"demand":100},
      {"date":"2025-08-23","solar":20,"wind":5.3,"geo":2,"smhydro":0.7,"lghydro":7,"batt":5,"demand":100},
      {"date":"2025-08-24","solar":25,"wind":7.3,"geo":2,"smhydro":0.7,"lghydro":7,"batt":5,"demand":100},
      {"date":"2025-08-26","solar":22,"wind":1.3,"geo":2,"smhydro":0.7,"lghydro":7,"batt":5,"demand":100},
      {"date":"2025-08-27","solar":28,"wind":7.3,"geo":2,"smhydro":0.7,"lghydro":7,"batt":5,"demand":100},
      {"date":"2025-08-29","solar":19,"wind":2.3,"geo":2,"smhydro":0.7,"lghydro":7,"batt":5,"demand":100},
      {"date":"2025-08-30","solar":29,"wind":8.3,"geo":2,"smhydro":0.7,"lghydro":7,"batt":5,"demand":100},
      {"date":"2025-09-01","solar":28,"wind":7.7,"geo":2.2,"smhydro":0.6,"lghydro":6,"batt":5.5,"demand":100},
      {"date":"2025-09-02","solar":17,"wind":1.7,"geo":2.2,"smhydro":0.6,"lghydro":6,"batt":5.5,"demand":100},
      {"date":"2025-09-03","solar":24,"wind":1.7,"geo":2.2,"smhydro":0.6,"lghydro":6,"batt":5.5,"demand":100},
      {"date":"2025-09-06","solar":28,"wind":11.7,"geo":2.2,"smhydro":0.6,"lghydro":6,"batt":5.5,"demand":100},
      {"date":"2025-09-09","solar":30,"wind":17.7,"geo":2.2,"smhydro":0.6,"lghydro":6,"batt":5.5,"demand":100},
      {"date":"2025-09-12","solar":31,"wind":18.7,"geo":2.2,"smhydro":0.6,"lghydro":6,"batt":5.5,"demand":100},
      {"date":"2025-09-14","solar":32,"wind":9.7,"geo":2.2,"smhydro":0.6,"lghydro":6,"batt":5.5,"demand":100},
      {"date":"2025-09-16","solar":25,"wind":0.7,"geo":2.2,"smhydro":0.6,"lghydro":6,"batt":5.5,"demand":100},
      {"date":"2025-09-18","solar":11,"wind":2.5,"geo":2,"smhydro":0.5,"lghydro":8,"batt":4,"demand":100},
      {"date":"2025-09-20","solar":27,"wind":10.7,"geo":2.2,"smhydro":0.6,"lghydro":6,"batt":5.5,"demand":100},
      {"date":"2025-09-22","solar":24,"wind":6.7,"geo":2.2,"smhydro":0.6,"lghydro":6,"batt":5.5,"demand":100},
      {"date":"2025-09-25","solar":29,"wind":11.7,"geo":2.2,"smhydro":0.6,"lghydro":6,"batt":5.5,"demand":100},
      {"date":"2025-09-26","solar":27,"wind":8.7,"geo":2.2,"smhydro":0.6,"lghydro":6,"batt":5.5,"demand":100},
      {"date":"2025-09-28","solar":26,"wind":11.7,"geo":2.2,"smhydro":0.6,"lghydro":6,"batt":5.5,"demand":100},
      {"date":"2025-09-29","solar":24,"wind":3.7,"geo":2.2,"smhydro":0.6,"lghydro":6,"batt":5.5,"demand":100},
      {"date":"2025-10-01","solar":33,"wind":10,"geo":2.5,"smhydro":0.5,"lghydro":5.5,"batt":6.5,"demand":100},
      {"date":"2025-10-03","solar":30,"wind":10,"geo":2.5,"smhydro":0.5,"lghydro":5.5,"batt":6.5,"demand":100},
      {"date":"2025-10-04","solar":32,"wind":15,"geo":2.5,"smhydro":0.5,"lghydro":5.5,"batt":6.5,"demand":100},
      {"date":"2025-10-07","solar":30,"wind":11,"geo":2.5,"smhydro":0.5,"lghydro":5.5,"batt":6.5,"demand":100},
      {"date":"2025-10-09","solar":19,"wind":6,"geo":2.5,"smhydro":0.5,"lghydro":5.5,"batt":6.5,"demand":100},
      {"date":"2025-10-11","solar":33,"wind":18,"geo":2.5,"smhydro":0.5,"lghydro":5.5,"batt":6.5,"demand":100},
      {"date":"2025-10-13","solar":29,"wind":6,"geo":2.5,"smhydro":0.5,"lghydro":5.5,"batt":6.5,"demand":100},
      {"date":"2025-10-14","solar":19,"wind":8,"geo":2.5,"smhydro":0.5,"lghydro":5.5,"batt":6.5,"demand":100},
      {"date":"2025-10-15","solar":31,"wind":11,"geo":2.5,"smhydro":0.5,"lghydro":5.5,"batt":6.5,"demand":100},
      {"date":"2025-10-17","solar":29,"wind":8,"geo":2.5,"smhydro":0.5,"lghydro":5.5,"batt":6.5,"demand":100},
      {"date":"2025-10-19","solar":30,"wind":9,"geo":2.5,"smhydro":0.5,"lghydro":5.5,"batt":6.5,"demand":100},
      {"date":"2025-10-20","solar":28,"wind":7,"geo":2.5,"smhydro":0.5,"lghydro":5.5,"batt":6.5,"demand":100}
    ],
    "dailyGwh": [
      {"date":"2025-01-01","solar":110,"wind":29,"geo":17,"smhydro":4,"lghydro":42,"batt":33,"demand":530},
      {"date":"2025-01-03","solar":75,"wind":39,"geo":17,"smhydro":4,"lghydro":42,"batt":33,"demand":560},
      {"date":"2025-01-04","solar":100,"wind":69,"geo":17,"smhydro":4,"lghydro":42,"batt":33,"demand":545},
      {"date":"2025-01-06","solar":100,"wind":44,"geo":17,"smhydro":4,"lghydro":42,"batt":33,"demand":510},
      {"date":"2025-01-08","solar":90,"wind":69,"geo":17,"smhydro":4,"lghydro":42,"batt":33,"demand":545},
      {"date":"2025-01-10","solar":105,"wind":39,"geo":17,"smhydro":4,"lghydro":42,"batt":33,"demand":530},
      {"date":"2025-01-11","solar":110,"wind":74,"geo":17,"smhydro":4,"lghydro":42,"batt":33,"demand":520},
      {"date":"2025-01-13","solar":110,"wind":39,"geo":17,"smhydro":4,"lghydro":42,"batt":33,"demand":550},
      {"date":"2025-01-15","solar":115,"wind":24,"geo":17,"smhydro":4,"lghydro":42,"batt":33,"demand":555},
      {"date":"2025-01-17","solar":110,"wind":94,"geo":17,"smhydro":4,"lghydro":42,"batt":33,"demand":560},
      {"date":"2025-01-19","solar":120,"wind":39,"geo":17,"smhydro":4,"lghydro":42,"batt":33,"demand":510},
      {"date":"2025-01-21","solar":125,"wind":49,"geo":17,"smhydro":4,"lghydro":42,"batt":33,"demand":540},
      {"date":"2025-01-22","solar":120,"wind":24,"geo":17,"smhydro":4,"lghydro":42,"batt":33,"demand":562},
      {"date":"2025-01-24","solar":110,"wind":29,"geo":17,"smhydro":4,"lghydro":42,"batt":33,"demand":550},
      {"date":"2025-01-26","solar":60,"wind":21,"geo":15,"smhydro":4,"lghydro":35,"batt":25,"demand":525},
      {"date":"2025-01-28","solar":105,"wind":39,"geo":17,"smhydro":4,"lghydro":42,"batt":33,"demand":568},
      {"date":"2025-01-30","solar":100,"wind":69,"geo":17,"smhydro":4,"lghydro":42,"batt":33,"demand":575},
      {"date":"2025-01-31","solar":100,"wind":34,"geo":17,"smhydro":4,"lghydro":42,"batt":33,"demand":585},
      {"date":"2025-02-02","solar":105,"wind":83,"geo":17,"smhydro":5,"lghydro":50,"batt":35,"demand":490},
      {"date":"2025-02-04","solar":100,"wind":63,"geo":17,"smhydro":5,"lghydro":50,"batt":35,"demand":555},
      {"date":"2025-02-06","solar":110,"wind":73,"geo":17,"smhydro":5,"lghydro":50,"batt":35,"demand":565},
      {"date":"2025-02-08","solar":115,"wind":98,"geo":17,"smhydro":5,"lghydro":50,"batt":35,"demand":580},
      {"date":"2025-02-10","solar":115,"wind":38,"geo":17,"smhydro":5,"lghydro":50,"batt":35,"demand":490},
      {"date":"2025-02-11","solar":130,"wind":73,"geo":17,"smhydro":5,"lghydro":50,"batt":35,"demand":545},
      {"date":"2025-02-13","solar":30,"wind":65,"geo":15,"smhydro":5,"lghydro":45,"batt":25,"demand":605},
      {"date":"2025-02-14","solar":120,"wind":93,"geo":17,"smhydro":5,"lghydro":50,"batt":35,"demand":550},
      {"date":"2025-02-17","solar":125,"wind":78,"geo":17,"smhydro":5,"lghydro":50,"batt":35,"demand":480},
      {"date":"2025-02-18","solar":130,"wind":23,"geo":17,"smhydro":5,"lghydro":50,"batt":35,"demand":515},
      {"date":"2025-02-20","solar":140,"wind":33,"geo":17,"smhydro":5,"lghydro":50,"batt":35,"demand":520},
      {"date":"2025-02-23","solar":120,"wind":58,"geo":17,"smhydro":5,"lghydro":50,"batt":35,"demand":468},
      {"date":"2025-02-26","solar":135,"wind":48,"geo":17,"smhydro":5,"lghydro":50,"batt":35,"demand":515},
      {"date":"2025-02-28","solar":120,"wind":33,"geo":17,"smhydro":5,"lghydro":50,"batt":35,"demand":490},
      {"date":"2025-03-02","solar":140,"wind":87,"geo":15,"smhydro":5,"lghydro":60,"batt":38,"demand":470},
      {"date":"2025-03-03","solar":145,"wind":87,"geo":15,"smhydro":5,"lghydro":60,"batt":38,"demand":510},
      {"date":"2025-03-05","solar":60,"wind":30,"geo":12,"smhydro":4,"lghydro":30,"batt":14,"demand":545},
      {"date":"2025-03-06","solar":145,"wind":82,"geo":15,"smhydro":5,"lghydro":60,"batt":38,"demand":540},
      {"date":"2025-03-08","solar":130,"wind":22,"geo":15,"smhydro":5,"lghydro":60,"batt":38,"demand":430},
      {"date":"2025-03-10","solar":95,"wind":17,"geo":15,"smhydro":5,"lghydro":60,"batt":38,"demand":480},
      {"date":"2025-03-12","solar":90,"wind":47,"geo":15,"smhydro":5,"lghydro":60,"batt":38,"demand":525},
      {"date":"2025-03-14","solar":120,"wind":47,"geo":15,"smhydro":5,"lghydro":60,"batt":38,"demand":565},
      {"date":"2025-03-16","solar":130,"wind":42,"geo":15,"smhydro":5,"lghydro":60,"batt":38,"demand":490},
      {"date":"2025-03-19","solar":145,"wind":12,"geo":15,"smhydro":5,"lghydro":58,"batt":35,"demand":500},
      {"date":"2025-03-22","solar":140,"wind":62,"geo":15,"smhydro":5,"lghydro":60,"batt":38,"demand":480},
      {"date":"2025-03-23","solar":135,"wind":17,"geo":15,"smhydro":5,"lghydro":60,"batt":38,"demand":440},
      {"date":"2025-03-26","solar":175,"wind":67,"geo":15,"smhydro":5,"lghydro":60,"batt":38,"demand":525},
      {"date":"2025-03-28","solar":130,"wind":102,"geo":15,"smhydro":5,"lghydro":60,"batt":38,"demand":480},
      {"date":"2025-03-31","solar":170,"wind":57,"geo":15,"smhydro":5,"lghydro":60,"batt":38,"demand":510},
      {"date":"2025-04-03","solar":170,"wind":56,"geo":13,"smhydro":6,"lghydro":65,"batt":40,"demand":490},
      {"date":"2025-04-05","solar":150,"wind":26,"geo":13,"smhydro":6,"lghydro":65,"batt":40,"demand":500},
      {"date":"2025-04-07","solar":185,"wind":61,"geo":13,"smhydro":6,"lghydro":65,"batt":40,"demand":530},
      {"date":"2025-04-08","solar":160,"wind":10,"geo":13,"smhydro":6,"lghydro":61,"batt":40,"demand":505},
      {"date":"2025-04-11","solar":175,"wind":81,"geo":13,"smhydro":6,"lghydro":65,"batt":40,"demand":520},
      {"date":"2025-04-14","solar":160,"wind":46,"geo":13,"smhydro":6,"lghydro":65,"batt":40,"demand":535},
      {"date":"2025-04-17","solar":170,"wind":116,"geo":13,"smhydro":6,"lghydro":65,"batt":40,"demand":440},
      {"date":"2025-04-19","solar":170,"wind":36,"geo":13,"smhydro":6,"lghydro":65,"batt":40,"demand":515},
      {"date":"2025-04-21","solar":190,"wind":86,"geo":13,"smhydro":6,"lghydro":65,"batt":40,"demand":525},
      {"date":"2025-04-23","solar":200,"wind":106,"geo":13,"smhydro":6,"lghydro":65,"batt":40,"demand":535},
      {"date":"2025-04-27","solar":160,"wind":56,"geo":13,"smhydro":6,"lghydro":65,"batt":40,"demand":495},
      {"date":"2025-04-29","solar":190,"wind":46,"geo":13,"smhydro":6,"lghydro":65,"batt":40,"demand":525},
      {"date":"2025-05-01","solar":195,"wind":48,"geo":12,"smhydro":7,"lghydro":70,"batt":38,"demand":525},
      {"date":"2025-05-04","solar":200,"wind":73,"geo":12,"smhydro":7,"lghydro":70,"batt":38,"demand":480},
      {"date":"2025-05-06","solar":160,"wind":63,"geo":12,"smhydro":7,"lghydro":70,"batt":38,"demand":535},
      {"date":"2025-05-07","solar":215,"wind":33,"geo":12,"smhydro":7,"lghydro":70,"batt":38,"demand":560},
      {"date":"2025-05-09","solar":205,"wind":48,"geo":12,"smhydro":7,"lghydro":70,"batt":38,"demand":600},
      {"date":"2025-05-11","solar":195,"wind":48,"geo":12,"smhydro":7,"lghydro":70,"batt":38,"demand":530},
      {"date":"2025-05-14","solar":200,"wind":83,"geo":12,"smhydro":7,"lghydro":70,"batt":38,"demand":520},
      {"date":"2025-05-17","solar":215,"wind":58,"geo":12,"smhydro":7,"lghydro":70,"batt":38,"demand":545},
      {"date":"2025-05-18","solar":190,"wind":73,"geo":12,"smhydro":7,"lghydro":70,"batt":38,"demand":460},
      {"date":"2025-05-19","solar":230,"wind":73,"geo":12,"smhydro":7,"lghydro":70,"batt":38,"demand":544},
      {"date":"2025-05-21","solar":230,"wind":88,"geo":12,"smhydro":7,"lghydro":70,"batt":38,"demand":590},
      {"date":"2025-05-23","solar":230,"wind":94,"geo":12,"smhydro":7,"lghydro":70,"batt":38,"demand":560},
      {"date":"2025-05-25","solar":225,"wind":68,"geo":12,"smhydro":7,"lghydro":70,"batt":38,"demand":474},
      {"date":"2025-05-27","solar":220,"wind":57,"geo":12,"smhydro":7,"lghydro":70,"batt":38,"demand":552},
      {"date":"2025-05-29","solar":200,"wind":43,"geo":12,"smhydro":7,"lghydro":70,"batt":38,"demand":587},
      {"date":"2025-05-30","solar":185,"wind":38,"geo":12,"smhydro":7,"lghydro":70,"batt":38,"demand":657},
      {"date":"2025-05-31","solar":160,"wind":48,"geo":12,"smhydro":7,"lghydro":70,"batt":38,"demand":620},
      {"date":"2025-06-02","solar":215,"wind":50,"geo":12,"smhydro":7,"lghydro":65,"batt":38,"demand":604},
      {"date":"2025-06-05","solar":225,"wind":58,"geo":12,"smhydro":7,"lghydro":65,"batt":38,"demand":600},
      {"date":"2025-06-07","solar":225,"wind":74,"geo":12,"smhydro":7,"lghydro":65,"batt":38,"demand":544},
      {"date":"2025-06-09","solar":225,"wind":93,"geo":12,"smhydro":7,"lghydro":65,"batt":38,"demand":622},
      {"date":"2025-06-12","solar":228,"wind":106,"geo":12,"smhydro":7,"lghydro":65,"batt":38,"demand":600},
      {"date":"2025-06-14","solar":226,"wind":92,"geo":12,"smhydro":7,"lghydro":65,"batt":38,"demand":561},
      {"date":"2025-06-16","solar":228,"wind":106,"geo":12,"smhydro":7,"lghydro":65,"batt":38,"demand":639},
      {"date":"2025-06-18","solar":228,"wind":100,"geo":12,"smhydro":7,"lghydro":65,"batt":38,"demand":674},
      {"date":"2025-06-19","solar":228,"wind":97,"geo":12,"smhydro":7,"lghydro":65,"batt":38,"demand":610},
      {"date":"2025-06-21","solar":225,"wind":73,"geo":12,"smhydro":7,"lghydro":65,"batt":38,"demand":509},
      {"date":"2025-06-22","solar":220,"wind":53,"geo":12,"smhydro":7,"lghydro":65,"batt":38,"demand":500},
      {"date":"2025-06-24","solar":225,"wind":53,"geo":12,"smhydro":7,"lghydro":65,"batt":38,"demand":587},
      {"date":"2025-06-26","solar":225,"wind":48,"geo":12,"smhydro":7,"lghydro":65,"batt":38,"demand":622},
      {"date":"2025-06-27","solar":222,"wind":46,"geo":12,"smhydro":7,"lghydro":65,"batt":38,"demand":648},
      {"date":"2025-06-29","solar":222,"wind":34,"geo":12,"smhydro":7,"lghydro":65,"batt":38,"demand":622},
      {"date":"2025-06-30","solar":222,"wind":46,"geo":12,"smhydro":7,"lghydro":65,"batt":38,"demand":657},
      {"date":"2025-07-02","solar":225,"wind":73,"geo":12,"smhydro":6,"lghydro":65,"batt":39,"demand":648},
      {"date":"2025-07-04","solar":228,"wind":89,"geo":12,"smhydro":6,"lghydro":65,"batt":39,"demand":578},
      {"date":"2025-07-06","solar":226,"wind":62,"geo":12,"smhydro":6,"lghydro":65,"batt":39,"demand":578},
      {"date":"2025-07-08","solar":225,"wind":48,"geo":12,"smhydro":6,"lghydro":65,"batt":39,"demand":648},
      {"date":"2025-07-10","solar":228,"wind":60,"geo":12,"smhydro":6,"lghydro":65,"batt":39,"demand":718},
      {"date":"2025-07-12","solar":226,"wind":73,"geo":12,"smhydro":6,"lghydro":65,"batt":39,"demand":631},
      {"date":"2025-07-14","solar":224,"wind":54,"geo":12,"smhydro":6,"lghydro":65,"batt":39,"demand":683},
      {"date":"2025-07-16","solar":224,"wind":32,"geo":12,"smhydro":6,"lghydro":65,"batt":39,"demand":657},
      {"date":"2025-07-18","solar":226,"wind":67,"geo":12,"smhydro":6,"lghydro":65,"batt":39,"demand":648},
      {"date":"2025-07-20","solar":226,"wind":82,"geo":12,"smhydro":6,"lghydro":65,"batt":39,"demand":587},
      {"date":"2025-07-21","solar":226,"wind":91,"geo":12,"smhydro":6,"lghydro":65,"batt":39,"demand":631},
      {"date":"2025-07-24","solar":225,"wind":83,"geo":12,"smhydro":6,"lghydro":65,"batt":39,"demand":631},
      {"date":"2025-07-25","solar":224,"wind":84,"geo":12,"smhydro":6,"lghydro":65,"batt":39,"demand":604},
      {"date":"2025-07-26","solar":222,"wind":76,"geo":12,"smhydro":6,"lghydro":65,"batt":39,"demand":552},
      {"date":"2025-07-28","solar":222,"wind":86,"geo":12,"smhydro":6,"lghydro":65,"batt":39,"demand":631},
      {"date":"2025-07-30","solar":222,"wind":95,"geo":12,"smhydro":6,"lghydro":65,"batt":39,"demand":652},
      {"date":"2025-08-01","solar":220,"wind":97,"geo":12,"smhydro":6,"lghydro":60,"batt":40,"demand":657},
      {"date":"2025-08-03","solar":218,"wind":94,"geo":12,"smhydro":6,"lghydro":60,"batt":40,"demand":596},
      {"date":"2025-08-05","solar":215,"wind":77,"geo":12,"smhydro":6,"lghydro":60,"batt":40,"demand":648},
      {"date":"2025-08-06","solar":215,"wind":62,"geo":12,"smhydro":6,"lghydro":60,"batt":40,"demand":705},
      {"date":"2025-08-08","solar":212,"wind":60,"geo":12,"smhydro":6,"lghydro":60,"batt":40,"demand":758},
      {"date":"2025-08-09","solar":212,"wind":80,"geo":12,"smhydro":6,"lghydro":60,"batt":40,"demand":753},
      {"date":"2025-08-10","solar":212,"wind":90,"geo":12,"smhydro":6,"lghydro":60,"batt":40,"demand":683},
      {"date":"2025-08-11","solar":210,"wind":102,"geo":12,"smhydro":6,"lghydro":60,"batt":40,"demand":718},
      {"date":"2025-08-13","solar":208,"wind":99,"geo":12,"smhydro":6,"lghydro":60,"batt":40,"demand":683},
      {"date":"2025-08-15","solar":205,"wind":98,"geo":12,"smhydro":6,"lghydro":60,"batt":40,"demand":648},
      {"date":"2025-08-17","solar":200,"wind":82,"geo":12,"smhydro":6,"lghydro":60,"batt":40,"demand":590},
      {"date":"2025-08-19","solar":198,"wind":54,"geo":12,"smhydro":6,"lghydro":60,"batt":40,"demand":665},
      {"date":"2025-08-20","solar":195,"wind":37,"geo":12,"smhydro":6,"lghydro":60,"batt":40,"demand":744},
      {"date":"2025-08-22","solar":190,"wind":28,"geo":13,"smhydro":5,"lghydro":50,"batt":40,"demand":800},
      {"date":"2025-08-23","solar":160,"wind":32,"geo":13,"smhydro":5,"lghydro":50,"batt":40,"demand":779},
      {"date":"2025-08-24","solar":145,"wind":38,"geo":13,"smhydro":5,"lghydro":50,"batt":40,"demand":718},
      {"date":"2025-08-26","solar":190,"wind":45,"geo":13,"smhydro":5,"lghydro":50,"batt":40,"demand":744},
      {"date":"2025-08-27","solar":140,"wind":32,"geo":13,"smhydro":5,"lghydro":45,"batt":38,"demand":727},
      {"date":"2025-08-28","solar":195,"wind":49,"geo":13,"smhydro":5,"lghydro":50,"batt":40,"demand":720},
      {"date":"2025-08-29","solar":185,"wind":33,"geo":13,"smhydro":5,"lghydro":50,"batt":40,"demand":718},
      {"date":"2025-08-31","solar":195,"wind":57,"geo":13,"smhydro":5,"lghydro":50,"batt":40,"demand":696},
      {"date":"2025-09-01","solar":190,"wind":47,"geo":14,"smhydro":4,"lghydro":45,"batt":40,"demand":718},
      {"date":"2025-09-02","solar":135,"wind":24,"geo":13,"smhydro":4,"lghydro":45,"batt":35,"demand":750},
      {"date":"2025-09-03","solar":185,"wind":32,"geo":14,"smhydro":4,"lghydro":45,"batt":40,"demand":786},
      {"date":"2025-09-04","solar":190,"wind":50,"geo":14,"smhydro":4,"lghydro":45,"batt":40,"demand":744},
      {"date":"2025-09-07","solar":192,"wind":75,"geo":14,"smhydro":4,"lghydro":45,"batt":40,"demand":648},
      {"date":"2025-09-08","solar":195,"wind":89,"geo":14,"smhydro":4,"lghydro":45,"batt":40,"demand":683},
      {"date":"2025-09-10","solar":195,"wind":97,"geo":14,"smhydro":4,"lghydro":45,"batt":40,"demand":648},
      {"date":"2025-09-12","solar":193,"wind":99,"geo":14,"smhydro":4,"lghydro":45,"batt":40,"demand":631},
      {"date":"2025-09-14","solar":190,"wind":50,"geo":14,"smhydro":4,"lghydro":45,"batt":40,"demand":578},
      {"date":"2025-09-15","solar":188,"wind":39,"geo":14,"smhydro":4,"lghydro":45,"batt":40,"demand":648},
      {"date":"2025-09-17","solar":185,"wind":20,"geo":14,"smhydro":4,"lghydro":45,"batt":40,"demand":744},
      {"date":"2025-09-18","solar":75,"wind":10,"geo":12,"smhydro":3,"lghydro":30,"batt":22,"demand":725},
      {"date":"2025-09-20","solar":180,"wind":43,"geo":14,"smhydro":4,"lghydro":45,"batt":40,"demand":650},
      {"date":"2025-09-21","solar":170,"wind":27,"geo":14,"smhydro":4,"lghydro":45,"batt":40,"demand":596},
      {"date":"2025-09-22","solar":160,"wind":28,"geo":14,"smhydro":4,"lghydro":45,"batt":40,"demand":657},
      {"date":"2025-09-23","solar":170,"wind":47,"geo":14,"smhydro":4,"lghydro":45,"batt":40,"demand":723},
      {"date":"2025-09-25","solar":178,"wind":62,"geo":14,"smhydro":4,"lghydro":45,"batt":40,"demand":680},
      {"date":"2025-09-26","solar":150,"wind":20,"geo":14,"smhydro":4,"lghydro":45,"batt":40,"demand":639},
      {"date":"2025-09-28","solar":175,"wind":42,"geo":14,"smhydro":4,"lghydro":45,"batt":40,"demand":561},
      {"date":"2025-09-29","solar":178,"wind":49,"geo":14,"smhydro":4,"lghydro":45,"batt":40,"demand":718},
      {"date":"2025-09-30","solar":178,"wind":49,"geo":14,"smhydro":4,"lghydro":45,"batt":40,"demand":622},
      {"date":"2025-10-01","solar":180,"wind":74,"geo":14,"smhydro":3,"lghydro":32,"batt":40,"demand":620},
      {"date":"2025-10-03","solar":182,"wind":81,"geo":14,"smhydro":3,"lghydro":32,"batt":40,"demand":613},
      {"date":"2025-10-05","solar":165,"wind":37,"geo":14,"smhydro":3,"lghydro":32,"batt":40,"demand":518},
      {"date":"2025-10-06","solar":175,"wind":46,"geo":14,"smhydro":3,"lghydro":32,"batt":40,"demand":570},
      {"date":"2025-10-07","solar":178,"wind":59,"geo":14,"smhydro":3,"lghydro":32,"batt":40,"demand":587},
      {"date":"2025-10-08","solar":170,"wind":41,"geo":14,"smhydro":3,"lghydro":32,"batt":40,"demand":587},
      {"date":"2025-10-10","solar":120,"wind":29,"geo":13,"smhydro":3,"lghydro":30,"batt":35,"demand":587},
      {"date":"2025-10-12","solar":175,"wind":79,"geo":14,"smhydro":3,"lghydro":32,"batt":40,"demand":491},
      {"date":"2025-10-14","solar":160,"wind":24,"geo":14,"smhydro":3,"lghydro":32,"batt":40,"demand":561},
      {"date":"2025-10-15","solar":165,"wind":46,"geo":14,"smhydro":3,"lghydro":32,"batt":40,"demand":526},
      {"date":"2025-10-17","solar":158,"wind":43,"geo":14,"smhydro":3,"lghydro":32,"batt":40,"demand":518},
      {"date":"2025-10-19","solar":150,"wind":34,"geo":14,"smhydro":3,"lghydro":32,"batt":40,"demand":500},
      {"date":"2025-10-20","solar":145,"wind":22,"geo":14,"smhydro":3,"lghydro":32,"batt":40,"demand":544}
    ]
  },
  "vconcat": [
    {
      "hconcat": [
        {"width": 1, "height": 1, "data": {"values": []}, "mark": {"type": "point", "opacity": 0}, "encoding": {}},
        {
          "hconcat": [
            {
              "width": 430, "height": 123,
              "data": {"name": "oct19pct"},
              "title": {"text": ["Percent of California Main Grid Electricity Demand Supplied by Wind-Water-Solar (WWS)", "Sun. Oct 19,  2025"], "fontSize": 8.2, "lineHeight": 10, "offset": 6, "frame": "bounds"},
              "layer": [
                {
                  "transform": [
                    {"fold": ["solar", "wind", "geo", "smhydro", "lghydro", "batt"], "as": ["key", "value"]},
                    {"lookup": "key", "from": {"data": {"values": [{"key": "solar", "rank": 1, "name": "Solar"}, {"key": "wind", "rank": 2, "name": "Wind"}, {"key": "geo", "rank": 3, "name": "Geothermal"}, {"key": "smhydro", "rank": 4, "name": "Small hydro"}, {"key": "lghydro", "rank": 5, "name": "Large hydro"}, {"key": "batt", "rank": 6, "name": "Batteries"}]}, "key": "key", "fields": ["rank", "name"]}}
                  ],
                  "mark": {"type": "area"},
                  "encoding": {
                    "x": {"field": "hour", "type": "quantitative", "scale": {"domain": [0, 23.92], "nice": false, "zero": false},
                      "axis": {"values": [0,0.5,1,1.5,2,2.5,3,3.5,4,4.5,5,5.5,6,6.5,7,7.5,8,8.5,9,9.5,10,10.5,11,11.5,12,12.5,13,13.5,14,14.5,15,15.5,16,16.5,17,17.5,18,18.5,19,19.5,20,20.5,21,21.5,22,22.5,23,23.5], "labelExpr": "floor(datum.value) + ':' + (datum.value % 1 > 0 ? '30' : '00')", "labelAngle": -60, "labelFontSize": 4.8, "labelPadding": 2, "labelOverlap": false, "labelFlush": false, "ticks": false, "grid": false, "domainColor": "#d9d9d9", "title": "Time of day", "titleFontSize": 7.5, "titlePadding": 4}},
                    "y": {"field": "value", "type": "quantitative", "stack": "zero", "scale": {"domain": [0, 130], "nice": false},
                      "axis": {"values": [0,10,20,30,40,50,60,70,80,90,100,110,120,130], "labelExpr": "datum.value + '%'", "labelFontSize": 6.5, "labelPadding": 5, "ticks": false, "domain": false, "title": "Percent of demand supplied by WWS", "titleFontSize": 7.2, "titlePadding": 7}},
                    "color": {"field": "name", "type": "nominal", "scale": {"domain": ["Solar", "Wind", "Geothermal", "Small hydro", "Large hydro", "Batteries", "Demand"], "range": ["#ece733", "#1e8b43", "#e8262b", "#ed7d31", "#2aa7df", "#1b2856", "#c00000"]},
                      "legend": {"orient": "none", "legendX": 47, "legendY": 0, "direction": "horizontal", "title": null, "symbolType": "square", "symbolSize": 14, "labelFontSize": 6.8, "labelOffset": 1.5, "columnPadding": 18, "padding": 0,
                        "encode": {"symbols": {"update": {"stroke": {"value": "#c00000"}, "strokeWidth": {"signal": "datum.value === 'Demand' ? 1 : 0"}, "fillOpacity": {"signal": "datum.value === 'Demand' ? 0 : 1"}}}}}},
                    "order": {"field": "rank", "type": "quantitative"}
                  }
                },
                {
                  "mark": {"type": "line", "color": "#c00000", "strokeWidth": 1.3},
                  "encoding": {
                    "x": {"field": "hour", "type": "quantitative", "scale": {"domain": [0, 23.92], "nice": false, "zero": false},
                      "axis": {"orient": "bottom", "labels": false, "ticks": false, "domain": false, "grid": false, "title": "Data source: https://www.caiso.com/todays-outlook", "titleFontSize": 4.3, "titleFontWeight": "bold", "titleColor": "#262626", "titleX": 251, "titleY": 24, "titleAlign": "left", "titleBaseline": "middle"}},
                    "y": {"field": "demand", "type": "quantitative", "scale": {"domain": [0, 130], "nice": false}, "axis": null}
                  }
                },
                {
                  "transform": [{"filter": "datum.hour == 0 || datum.hour == 23.92"}],
                  "mark": {"type": "rule", "color": "#c00000", "strokeWidth": 1.3},
                  "encoding": {
                    "x": {"field": "hour", "type": "quantitative", "scale": {"domain": [0, 23.92], "nice": false, "zero": false}, "axis": null},
                    "y": {"field": "demand", "type": "quantitative", "scale": {"domain": [0, 130], "nice": false}, "axis": null},
                    "y2": {"datum": 0}
                  }
                }
              ],
              "resolve": {"axis": {"x": "independent", "y": "independent"}}
            },
            {
              "width": 382, "height": 123,
              "data": {"name": "oct19gw"},
              "title": {"text": ["California Main Grid Electricity Demand and Wind-Water-Solar (WWS) Supply (GW)", "Sun. Oct 19, 2025"], "fontSize": 8.2, "lineHeight": 10, "offset": 6, "frame": "bounds"},
              "layer": [
                {
                  "transform": [
                    {"fold": ["solar", "wind", "geo", "smhydro", "lghydro", "batt"], "as": ["key", "value"]},
                    {"lookup": "key", "from": {"data": {"values": [{"key": "solar", "rank": 1, "name": "Solar"}, {"key": "wind", "rank": 2, "name": "Wind"}, {"key": "geo", "rank": 3, "name": "Geothermal"}, {"key": "smhydro", "rank": 4, "name": "Small hydro"}, {"key": "lghydro", "rank": 5, "name": "Large hydro"}, {"key": "batt", "rank": 6, "name": "Bat discharge"}]}, "key": "key", "fields": ["rank", "name"]}}
                  ],
                  "mark": {"type": "area"},
                  "encoding": {
                    "x": {"field": "hour", "type": "quantitative", "scale": {"domain": [0, 23.92], "nice": false, "zero": false},
                      "axis": {"values": [0,0.5,1,1.5,2,2.5,3,3.5,4,4.5,5,5.5,6,6.5,7,7.5,8,8.5,9,9.5,10,10.5,11,11.5,12,12.5,13,13.5,14,14.5,15,15.5,16,16.5,17,17.5,18,18.5,19,19.5,20,20.5,21,21.5,22,22.5,23,23.5], "labelExpr": "floor(datum.value) + ':' + (datum.value % 1 > 0 ? '30' : '00')", "labelAngle": -90, "labelFontSize": 4.5, "labelPadding": 2, "labelOverlap": false, "labelFlush": false, "ticks": false, "grid": false, "domainColor": "#d9d9d9", "title": "Time of day", "titleFontSize": 7.5, "titlePadding": 6}},
                    "y": {"field": "value", "type": "quantitative", "stack": "zero", "scale": {"domain": [0, 50], "nice": false},
                      "axis": {"values": [0,5,10,15,20,25,30,35,40,45,50], "labelFontSize": 6.5, "labelPadding": 5, "ticks": false, "domain": false, "title": "Grid demand and WWS supply (GW)", "titleFontSize": 7.2, "titlePadding": 3}},
                    "color": {"field": "name", "type": "nominal", "scale": {"domain": ["Solar", "Wind", "Geothermal", "Small hydro", "Large hydro", "Bat discharge", "Demand", "Bat charge"], "range": ["#ece733", "#1e8b43", "#e8262b", "#ed7d31", "#2aa7df", "#1b2856", "#c00000", "#f4b183"]},
                      "legend": {"orient": "none", "legendX": 43, "legendY": 0, "direction": "horizontal", "title": null, "symbolType": "square", "symbolSize": 14, "labelFontSize": 6.6, "labelOffset": 1.5, "columnPadding": 7, "padding": 0,
                        "encode": {"symbols": {"update": {"stroke": {"value": "#c00000"}, "strokeWidth": {"signal": "datum.value === 'Demand' ? 1 : 0"}, "fillOpacity": {"signal": "datum.value === 'Demand' ? 0 : 1"}}}}}},
                    "order": {"field": "rank", "type": "quantitative"}
                  }
                },
                {
                  "mark": {"type": "area", "color": {"gradient": "radial", "x1": 0.5, "y1": 0.5, "x2": 0.5, "y2": 0.5, "r1": 0, "r2": 0.22, "stops": [{"offset": 0, "color": "#ffffff"}, {"offset": 0.6, "color": "#f7cdb3"}, {"offset": 1, "color": "#eea27c"}]}},
                  "encoding": {
                    "x": {"field": "hour", "type": "quantitative", "scale": {"domain": [0, 23.92], "nice": false, "zero": false}, "axis": null},
                    "y": {"field": "charge_top", "type": "quantitative", "scale": {"domain": [0, 50], "nice": false}, "axis": null},
                    "y2": {"field": "demand"}
                  }
                },
                {
                  "mark": {"type": "line", "color": "#c00000", "strokeWidth": 1.3},
                  "encoding": {
                    "x": {"field": "hour", "type": "quantitative", "scale": {"domain": [0, 23.92], "nice": false, "zero": false},
                      "axis": {"orient": "bottom", "labels": false, "ticks": false, "domain": false, "grid": false, "title": "Data source: https://www.caiso.com/todays-outlook", "titleFontSize": 4.3, "titleFontWeight": "bold", "titleColor": "#262626", "titleX": 232, "titleY": 24, "titleAlign": "left", "titleBaseline": "middle"}},
                    "y": {"field": "demand", "type": "quantitative", "scale": {"domain": [0, 50], "nice": false},
                      "axis": {"orient": "right", "values": [0,5,10,15,20,25,30,35,40,45,50], "labelFontSize": 6.5, "labelPadding": 3, "ticks": false, "domain": false, "grid": false, "title": null}}
                  }
                },
                {
                  "transform": [{"filter": "datum.hour == 0 || datum.hour == 23.92"}],
                  "mark": {"type": "rule", "color": "#c00000", "strokeWidth": 1.3},
                  "encoding": {
                    "x": {"field": "hour", "type": "quantitative", "scale": {"domain": [0, 23.92], "nice": false, "zero": false}, "axis": null},
                    "y": {"field": "demand", "type": "quantitative", "scale": {"domain": [0, 50], "nice": false}, "axis": null},
                    "y2": {"datum": 0}
                  }
                }
              ],
              "resolve": {"axis": {"x": "independent", "y": "independent"}}
            }
          ],
          "spacing": 12,
          "resolve": {"scale": {"color": "independent"}}
        }
      ],
      "spacing": 0,
      "resolve": {"scale": {"color": "independent"}}
    },
    {
      "hconcat": [
        {"width": 1, "height": 1, "data": {"values": []}, "mark": {"type": "point", "opacity": 0}, "encoding": {}},
        {
          "hconcat": [
            {
              "width": 430, "height": 122,
              "data": {"name": "oct20pct"},
              "title": {"text": ["Percent of California Main Grid Electricity Demand Supplied by Wind-Water-Solar (WWS)", "Mon. Oct 20,  2025"], "fontSize": 8.2, "lineHeight": 10, "offset": 4, "frame": "bounds"},
              "layer": [
                {
                  "transform": [
                    {"fold": ["solar", "wind", "geo", "smhydro", "lghydro", "batt"], "as": ["key", "value"]},
                    {"lookup": "key", "from": {"data": {"values": [{"key": "solar", "rank": 1, "name": "Solar"}, {"key": "wind", "rank": 2, "name": "Wind"}, {"key": "geo", "rank": 3, "name": "Geothermal"}, {"key": "smhydro", "rank": 4, "name": "Small hydro"}, {"key": "lghydro", "rank": 5, "name": "Large hydro"}, {"key": "batt", "rank": 6, "name": "Batteries"}]}, "key": "key", "fields": ["rank", "name"]}}
                  ],
                  "mark": {"type": "area"},
                  "encoding": {
                    "x": {"field": "hour", "type": "quantitative", "scale": {"domain": [0, 23.92], "nice": false, "zero": false},
                      "axis": {"values": [0,0.5,1,1.5,2,2.5,3,3.5,4,4.5,5,5.5,6,6.5,7,7.5,8,8.5,9,9.5,10,10.5,11,11.5,12,12.5,13,13.5,14,14.5,15,15.5,16,16.5,17,17.5,18,18.5,19,19.5,20,20.5,21,21.5,22,22.5,23,23.5], "labelExpr": "floor(datum.value) + ':' + (datum.value % 1 > 0 ? '30' : '00')", "labelAngle": -60, "labelFontSize": 4.8, "labelPadding": 2, "labelOverlap": false, "labelFlush": false, "ticks": false, "grid": false, "domainColor": "#d9d9d9", "title": "Time of day", "titleFontSize": 7.5, "titlePadding": 4}},
                    "y": {"field": "value", "type": "quantitative", "stack": "zero", "scale": {"domain": [0, 110], "nice": false},
                      "axis": {"values": [0,10,20,30,40,50,60,70,80,90,100,110], "labelExpr": "datum.value + '%'", "labelFontSize": 6.5, "labelPadding": 5, "ticks": false, "domain": false, "title": "Percent of demand supplied by WWS", "titleFontSize": 7.2, "titlePadding": 7}},
                    "color": {"field": "name", "type": "nominal", "scale": {"domain": ["Solar", "Wind", "Geothermal", "Small hydro", "Large hydro", "Batteries", "Demand"], "range": ["#ece733", "#1e8b43", "#e8262b", "#ed7d31", "#2aa7df", "#1b2856", "#c00000"]},
                      "legend": {"orient": "none", "legendX": 47, "legendY": 0, "direction": "horizontal", "title": null, "symbolType": "square", "symbolSize": 14, "labelFontSize": 6.8, "labelOffset": 1.5, "columnPadding": 18, "padding": 0,
                        "encode": {"symbols": {"update": {"stroke": {"value": "#c00000"}, "strokeWidth": {"signal": "datum.value === 'Demand' ? 1 : 0"}, "fillOpacity": {"signal": "datum.value === 'Demand' ? 0 : 1"}}}}}},
                    "order": {"field": "rank", "type": "quantitative"}
                  }
                },
                {
                  "mark": {"type": "line", "color": "#c00000", "strokeWidth": 1.3},
                  "encoding": {
                    "x": {"field": "hour", "type": "quantitative", "scale": {"domain": [0, 23.92], "nice": false, "zero": false},
                      "axis": {"orient": "bottom", "labels": false, "ticks": false, "domain": false, "grid": false, "title": "Data source: https://www.caiso.com/todays-outlook", "titleFontSize": 4.3, "titleFontWeight": "bold", "titleColor": "#262626", "titleX": 251, "titleY": 24, "titleAlign": "left", "titleBaseline": "middle"}},
                    "y": {"field": "demand", "type": "quantitative", "scale": {"domain": [0, 110], "nice": false}, "axis": null}
                  }
                },
                {
                  "transform": [{"filter": "datum.hour == 0 || datum.hour == 23.92"}],
                  "mark": {"type": "rule", "color": "#c00000", "strokeWidth": 1.3},
                  "encoding": {
                    "x": {"field": "hour", "type": "quantitative", "scale": {"domain": [0, 23.92], "nice": false, "zero": false}, "axis": null},
                    "y": {"field": "demand", "type": "quantitative", "scale": {"domain": [0, 110], "nice": false}, "axis": null},
                    "y2": {"datum": 0}
                  }
                }
              ],
              "resolve": {"axis": {"x": "independent", "y": "independent"}}
            },
            {
              "width": 382, "height": 122,
              "data": {"name": "oct20gw"},
              "title": {"text": ["California Main Grid Electricity Demand and Wind-Water-Solar (WWS) Supply (GW)", "Mon. Oct 20, 2025"], "fontSize": 8.2, "lineHeight": 10, "offset": 4, "frame": "bounds"},
              "layer": [
                {
                  "transform": [
                    {"fold": ["solar", "wind", "geo", "smhydro", "lghydro", "batt"], "as": ["key", "value"]},
                    {"lookup": "key", "from": {"data": {"values": [{"key": "solar", "rank": 1, "name": "Solar"}, {"key": "wind", "rank": 2, "name": "Wind"}, {"key": "geo", "rank": 3, "name": "Geothermal"}, {"key": "smhydro", "rank": 4, "name": "Small hydro"}, {"key": "lghydro", "rank": 5, "name": "Large hydro"}, {"key": "batt", "rank": 6, "name": "Bat discharge"}]}, "key": "key", "fields": ["rank", "name"]}}
                  ],
                  "mark": {"type": "area"},
                  "encoding": {
                    "x": {"field": "hour", "type": "quantitative", "scale": {"domain": [0, 23.92], "nice": false, "zero": false},
                      "axis": {"values": [0,0.5,1,1.5,2,2.5,3,3.5,4,4.5,5,5.5,6,6.5,7,7.5,8,8.5,9,9.5,10,10.5,11,11.5,12,12.5,13,13.5,14,14.5,15,15.5,16,16.5,17,17.5,18,18.5,19,19.5,20,20.5,21,21.5,22,22.5,23,23.5], "labelExpr": "floor(datum.value) + ':' + (datum.value % 1 > 0 ? '30' : '00')", "labelAngle": -90, "labelFontSize": 4.5, "labelPadding": 2, "labelOverlap": false, "labelFlush": false, "ticks": false, "grid": false, "domainColor": "#d9d9d9", "title": "Time of day", "titleFontSize": 7.5, "titlePadding": 6}},
                    "y": {"field": "value", "type": "quantitative", "stack": "zero", "scale": {"domain": [0, 50], "nice": false},
                      "axis": {"values": [0,5,10,15,20,25,30,35,40,45,50], "labelFontSize": 6.5, "labelPadding": 5, "ticks": false, "domain": false, "title": "Grid demand and WWS supply (GW)", "titleFontSize": 7.2, "titlePadding": 3}},
                    "color": {"field": "name", "type": "nominal", "scale": {"domain": ["Solar", "Wind", "Geothermal", "Small hydro", "Large hydro", "Bat discharge", "Demand", "Bat charge"], "range": ["#ece733", "#1e8b43", "#e8262b", "#ed7d31", "#2aa7df", "#1b2856", "#c00000", "#f4b183"]},
                      "legend": {"orient": "none", "legendX": 43, "legendY": 0, "direction": "horizontal", "title": null, "symbolType": "square", "symbolSize": 14, "labelFontSize": 6.6, "labelOffset": 1.5, "columnPadding": 7, "padding": 0,
                        "encode": {"symbols": {"update": {"stroke": {"value": "#c00000"}, "strokeWidth": {"signal": "datum.value === 'Demand' ? 1 : 0"}, "fillOpacity": {"signal": "datum.value === 'Demand' ? 0 : 1"}}}}}},
                    "order": {"field": "rank", "type": "quantitative"}
                  }
                },
                {
                  "mark": {"type": "area", "color": {"gradient": "radial", "x1": 0.5, "y1": 0.5, "x2": 0.5, "y2": 0.5, "r1": 0, "r2": 0.22, "stops": [{"offset": 0, "color": "#ffffff"}, {"offset": 0.6, "color": "#f7cdb3"}, {"offset": 1, "color": "#eea27c"}]}},
                  "encoding": {
                    "x": {"field": "hour", "type": "quantitative", "scale": {"domain": [0, 23.92], "nice": false, "zero": false}, "axis": null},
                    "y": {"field": "charge_top", "type": "quantitative", "scale": {"domain": [0, 50], "nice": false}, "axis": null},
                    "y2": {"field": "demand"}
                  }
                },
                {
                  "mark": {"type": "line", "color": "#c00000", "strokeWidth": 1.3},
                  "encoding": {
                    "x": {"field": "hour", "type": "quantitative", "scale": {"domain": [0, 23.92], "nice": false, "zero": false},
                      "axis": {"orient": "bottom", "labels": false, "ticks": false, "domain": false, "grid": false, "title": "Data source: https://www.caiso.com/todays-outlook", "titleFontSize": 4.3, "titleFontWeight": "bold", "titleColor": "#262626", "titleX": 232, "titleY": 24, "titleAlign": "left", "titleBaseline": "middle"}},
                    "y": {"field": "demand", "type": "quantitative", "scale": {"domain": [0, 50], "nice": false},
                      "axis": {"orient": "right", "values": [0,5,10,15,20,25,30,35,40,45,50], "labelFontSize": 6.5, "labelPadding": 3, "ticks": false, "domain": false, "grid": false, "title": null}}
                  }
                },
                {
                  "transform": [{"filter": "datum.hour == 0 || datum.hour == 23.92"}],
                  "mark": {"type": "rule", "color": "#c00000", "strokeWidth": 1.3},
                  "encoding": {
                    "x": {"field": "hour", "type": "quantitative", "scale": {"domain": [0, 23.92], "nice": false, "zero": false}, "axis": null},
                    "y": {"field": "demand", "type": "quantitative", "scale": {"domain": [0, 50], "nice": false}, "axis": null},
                    "y2": {"datum": 0}
                  }
                }
              ],
              "resolve": {"axis": {"x": "independent", "y": "independent"}}
            }
          ],
          "spacing": 12,
          "resolve": {"scale": {"color": "independent"}}
        }
      ],
      "spacing": 0,
      "resolve": {"scale": {"color": "independent"}}
    },
    {
      "hconcat": [
        {"width": 1, "height": 1, "data": {"values": []}, "mark": {"type": "point", "opacity": 0}, "encoding": {}},
        {
          "width": 869, "height": 248,
          "data": {"name": "bars"},
          "title": {"text": ["2024 versus 2025 (Jan 1-Oct 20) CAISO Grid Avg Daily Demand; All Components of Supply, Including Wind-Water-Solar (WWS); Avg. Hours/Day Where WWS>100% of", "Demand; Avg. WWS as % of Demand; & Max WWS. 2025 to date: 202 of 293 Days and 6 Straight >100% WWS"], "fontSize": 9, "lineHeight": 11, "offset": -33},
          "encoding": {
            "x": {"field": "cat", "type": "nominal", "sort": null, "scale": {"paddingInner": 0.13, "paddingOuter": 0.06},
              "axis": {"labelExpr": "split(datum.label, '|')", "labelAngle": 0, "labelFontSize": 6.8, "labelLineHeight": 8, "labelPadding": 5, "ticks": false, "domain": false, "title": null}},
            "xOffset": {"field": "year", "type": "nominal", "scale": {"domain": ["2023", "2024", "2025"]}},
            "y": {"field": "value", "type": "quantitative", "scale": {"domain": [0, 700], "nice": false},
              "axis": {"values": [0,100,200,300,400,500,600,700], "labelFontSize": 9.5, "labelPadding": 7, "ticks": true, "tickSize": 3, "tickColor": "#8eb4e3", "domainColor": "#8eb4e3", "title": null}}
          },
          "layer": [
            {
              "mark": {"type": "bar"},
              "encoding": {
                "color": {"field": "year", "type": "nominal", "scale": {"domain": ["2023", "2024", "2025"], "range": ["#22a04b", "#ec1c24", "#2e4fa3"]},
                  "legend": {"orient": "none", "legendX": 380, "legendY": 276, "direction": "horizontal", "title": null, "symbolType": "square", "symbolSize": 30, "labelFont": "Liberation Sans", "labelFontSize": 8.5, "labelColor": "#404040", "labelOffset": 2, "columnPadding": 3, "padding": 0}}
              }
            },
            {
              "mark": {"type": "text", "baseline": "bottom", "dy": -2, "fontSize": 5, "color": "#404040"},
              "encoding": {"text": {"field": "value", "type": "quantitative", "format": ".1f"}}
            }
          ]
        }
      ],
      "spacing": 0,
      "resolve": {"scale": {"color": "independent"}}
    },
    {
      "hconcat": [
        {"width": 1, "height": 1, "data": {"values": []}, "mark": {"type": "point", "opacity": 0}, "encoding": {}},
        {
          "width": 824, "height": 158,
          "data": {"name": "dailyPct"},
          "title": {"text": "CAISO Grid Daily Wind-Water-Solar (WWS) Total and Component Supply as a Percent of Demand, Jan. 1-Oct. 20, 2025", "fontSize": 12.2, "offset": 11, "frame": "bounds"},
          "layer": [
            {
              "transform": [
                {"fold": ["solar", "wind", "geo", "smhydro", "lghydro", "batt"], "as": ["key", "value"]},
                {"lookup": "key", "from": {"data": {"values": [{"key": "solar", "rank": 1, "name": "Utility PV+CSP"}, {"key": "wind", "rank": 2, "name": "Wind"}, {"key": "geo", "rank": 3, "name": "Geothermal"}, {"key": "smhydro", "rank": 4, "name": "Small hydro"}, {"key": "lghydro", "rank": 5, "name": "Large hydro"}, {"key": "batt", "rank": 6, "name": "Battery discharge"}]}, "key": "key", "fields": ["rank", "name"]}}
              ],
              "mark": {"type": "area"},
              "encoding": {
                "x": {"field": "date", "type": "temporal", "scale": {"type": "utc", "domain": [1735689600000, 1760918400000], "nice": false},
                  "axis": {"values": [1735689600000,1736294400000,1736899200000,1737504000000,1738108800000,1738713600000,1739318400000,1739923200000,1740528000000,1741132800000,1741737600000,1742342400000,1742947200000,1743552000000,1744156800000,1744761600000,1745366400000,1745971200000,1746576000000,1747180800000,1747785600000,1748390400000,1748995200000,1749600000000,1750204800000,1750809600000,1751414400000,1752019200000,1752624000000,1753228800000,1753833600000,1754438400000,1755043200000,1755648000000,1756252800000,1756857600000,1757462400000,1758067200000,1758672000000,1759276800000,1759881600000,1760486400000], "labelExpr": "utcFormat(datum.value, '%-m/%-d/%y')", "labelAngle": -45, "labelFontSize": 7, "labelPadding": 2, "labelOverlap": false, "labelFlush": false, "ticks": false, "grid": false, "domainColor": "#d9d9d9", "title": "Date", "titleFontSize": 10.5, "titlePadding": 10}},
                "y": {"field": "value", "type": "quantitative", "stack": "zero", "scale": {"domain": [0, 100], "nice": false},
                  "axis": {"values": [0,10,20,30,40,50,60,70,80,90,100], "labelFontSize": 10, "labelPadding": 4, "ticks": true, "tickSize": 2, "tickColor": "#c00000", "domainColor": "#c00000", "domainWidth": 1.5, "title": "WWS supply as percent of demand", "titleFontSize": 10.5, "titlePadding": 13}},
                "color": {"field": "name", "type": "nominal", "scale": {"domain": ["Utility PV+CSP", "Wind", "Geothermal", "Small hydro", "Large hydro", "Battery discharge", "Demand"], "range": ["#ffff00", "#138a2c", "#ff1f1f", "#f5b400", "#2aa9e1", "#0c1f55", "#c00000"]},
                  "legend": {"orient": "none", "legendX": 198, "legendY": 219, "direction": "horizontal", "title": null, "symbolType": "square", "symbolSize": 22, "labelFontSize": 8.5, "labelOffset": 2, "columnPadding": 8, "padding": 0,
                    "encode": {"symbols": {"update": {"stroke": {"value": "#c00000"}, "strokeWidth": {"signal": "datum.value === 'Demand' ? 1.2 : 0"}, "fillOpacity": {"signal": "datum.value === 'Demand' ? 0 : 1"}}}}}},
                "order": {"field": "rank", "type": "quantitative"}
              }
            },
            {
              "mark": {"type": "line", "color": "#c00000", "strokeWidth": 1.5},
              "encoding": {
                "x": {"field": "date", "type": "temporal", "scale": {"type": "utc", "domain": [1735689600000, 1760918400000], "nice": false}, "axis": null},
                "y": {"field": "demand", "type": "quantitative", "scale": {"domain": [0, 100], "nice": false},
                  "axis": {"orient": "right", "values": [0,10,20,30,40,50,60,70,80,90,100], "labelFontSize": 10, "labelPadding": 4, "ticks": true, "tickSize": 2, "tickColor": "#c00000", "domainColor": "#c00000", "domainWidth": 1.5, "grid": false, "title": null}}
              }
            }
          ],
          "resolve": {"axis": {"x": "independent", "y": "independent"}}
        }
      ],
      "spacing": 0,
      "resolve": {"scale": {"color": "independent"}}
    },
    {
      "hconcat": [
        {"width": 1, "height": 1, "data": {"values": []}, "mark": {"type": "point", "opacity": 0}, "encoding": {}},
        {
          "width": 824, "height": 158,
          "data": {"name": "dailyGwh"},
          "title": {"text": "CAISO Grid Daily Demand and Wind-Water-Solar (WWS) Supply (GWh/day), Jan. 1-Oct. 20,  2025", "fontSize": 12.2, "offset": 13, "frame": "bounds"},
          "layer": [
            {
              "transform": [
                {"fold": ["solar", "wind", "geo", "smhydro", "lghydro", "batt"], "as": ["key", "value"]},
                {"lookup": "key", "from": {"data": {"values": [{"key": "solar", "rank": 1, "name": "Utility PV+CSP"}, {"key": "wind", "rank": 2, "name": "Wind"}, {"key": "geo", "rank": 3, "name": "Geothermal"}, {"key": "smhydro", "rank": 4, "name": "Small hydro"}, {"key": "lghydro", "rank": 5, "name": "Large hydro"}, {"key": "batt", "rank": 6, "name": "Battery discharge"}]}, "key": "key", "fields": ["rank", "name"]}}
              ],
              "mark": {"type": "area"},
              "encoding": {
                "x": {"field": "date", "type": "temporal", "scale": {"type": "utc", "domain": [1735689600000, 1760918400000], "nice": false},
                  "axis": {"values": [1735689600000,1736294400000,1736899200000,1737504000000,1738108800000,1738713600000,1739318400000,1739923200000,1740528000000,1741132800000,1741737600000,1742342400000,1742947200000,1743552000000,1744156800000,1744761600000,1745366400000,1745971200000,1746576000000,1747180800000,1747785600000,1748390400000,1748995200000,1749600000000,1750204800000,1750809600000,1751414400000,1752019200000,1752624000000,1753228800000,1753833600000,1754438400000,1755043200000,1755648000000,1756252800000,1756857600000,1757462400000,1758067200000,1758672000000,1759276800000,1759881600000,1760486400000], "labelExpr": "utcFormat(datum.value, '%-m/%-d/%y')", "labelAngle": -45, "labelFontSize": 7, "labelPadding": 2, "labelOverlap": false, "labelFlush": false, "ticks": false, "grid": false, "domainColor": "#d9d9d9", "title": "Date", "titleFontSize": 10.5, "titlePadding": 10}},
                "y": {"field": "value", "type": "quantitative", "stack": "zero", "scale": {"domain": [0, 825], "nice": false},
                  "axis": {"values": [0,100,200,300,400,500,600,700,800], "labelFontSize": 10, "labelPadding": 4, "ticks": true, "tickSize": 2, "tickColor": "#c00000", "domainColor": "#c00000", "domainWidth": 1.5, "title": "GWh/day supply or demand", "titleFontSize": 10.5, "titlePadding": 13}},
                "color": {"field": "name", "type": "nominal", "scale": {"domain": ["Utility PV+CSP", "Wind", "Geothermal", "Small hydro", "Large hydro", "Battery discharge", "Demand"], "range": ["#ffff00", "#138a2c", "#ff1f1f", "#f5b400", "#2aa9e1", "#0c1f55", "#c00000"]},
                  "legend": {"orient": "none", "legendX": 198, "legendY": 218, "direction": "horizontal", "title": null, "symbolType": "square", "symbolSize": 22, "labelFontSize": 8.5, "labelOffset": 2, "columnPadding": 8, "padding": 0,
                    "encode": {"symbols": {"update": {"stroke": {"value": "#c00000"}, "strokeWidth": {"signal": "datum.value === 'Demand' ? 1.2 : 0"}, "fillOpacity": {"signal": "datum.value === 'Demand' ? 0 : 1"}}}}}},
                "order": {"field": "rank", "type": "quantitative"}
              }
            },
            {
              "mark": {"type": "line", "color": "#c00000", "strokeWidth": 1.5},
              "encoding": {
                "x": {"field": "date", "type": "temporal", "scale": {"type": "utc", "domain": [1735689600000, 1760918400000], "nice": false}, "axis": null},
                "y": {"field": "demand", "type": "quantitative", "scale": {"domain": [0, 825], "nice": false},
                  "axis": {"orient": "right", "values": [0,100,200,300,400,500,600,700,800], "labelFontSize": 10, "labelPadding": 4, "ticks": true, "tickSize": 2, "tickColor": "#c00000", "domainColor": "#c00000", "domainWidth": 1.5, "grid": false, "title": null}}
              }
            }
          ],
          "resolve": {"axis": {"x": "independent", "y": "independent"}}
        }
      ],
      "spacing": 0,
      "resolve": {"scale": {"color": "independent"}}
    }
  ]
}
